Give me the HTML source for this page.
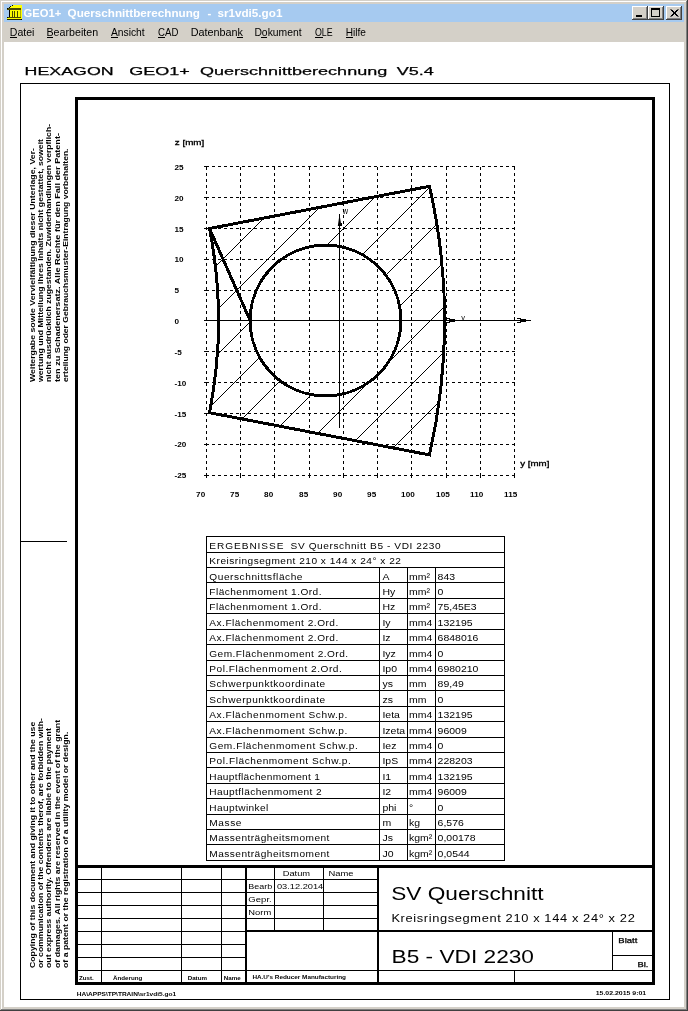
<!DOCTYPE html>
<html><head><meta charset="utf-8"><title>GEO1+ Querschnittberechnung</title>
<style>html,body{margin:0;padding:0;background:#D4D0C8;overflow:hidden}svg{display:block}</style>
</head><body>
<svg width="688" height="1011" viewBox="0 0 688 1011" shape-rendering="auto"><rect x="0" y="0" width="688" height="1011" fill="#D4D0C8"/>
<rect x="1" y="1" width="686" height="1" fill="#fff"/>
<rect x="1" y="1" width="1" height="1009" fill="#fff"/>
<rect x="687" y="0" width="1" height="1011" fill="#404040"/>
<rect x="0" y="1010" width="688" height="1" fill="#404040"/>
<rect x="686" y="1" width="1" height="1009" fill="#808080"/>
<rect x="1" y="1009" width="686" height="1" fill="#808080"/>
<rect x="4" y="4" width="680" height="18" fill="#A6CAF0"/>
<g><rect x="13" y="5" width="9" height="1" fill="#FFFF00"/><rect x="11" y="6" width="11" height="1" fill="#FFFF00"/><rect x="10" y="7" width="12" height="1" fill="#FFFF00"/><rect x="8" y="8" width="14" height="1" fill="#FFFF00"/><rect x="7" y="9" width="15" height="1" fill="#FFFF00"/><rect x="9" y="10" width="13" height="7" fill="#FFFF00"/><rect x="7" y="17" width="15" height="3" fill="#FFFF00"/><rect x="12" y="5" width="1" height="1" fill="#000"/><rect x="10" y="6" width="1" height="1" fill="#000"/><rect x="9" y="7" width="1" height="1" fill="#000"/><rect x="7" y="8" width="1" height="1" fill="#000"/><rect x="8" y="8" width="13" height="1" fill="#4a4a00"/><rect x="7" y="9" width="14" height="1" fill="#4a4a00"/><rect x="9" y="10" width="1" height="7" fill="#000"/><rect x="12" y="11" width="1" height="6" fill="#4a4a00"/><rect x="14" y="11" width="1" height="6" fill="#4a4a00"/><rect x="17" y="11" width="1" height="6" fill="#4a4a00"/><rect x="20" y="10" width="1" height="7" fill="#b0b000"/><rect x="8" y="17" width="13" height="1" fill="#4a4a00"/><rect x="7" y="19" width="15" height="1" fill="#2a2a00"/><rect x="7" y="17" width="1" height="1" fill="#000"/><rect x="21" y="19" width="1" height="1" fill="#000"/></g>
<g font-family="'Liberation Sans', 'DejaVu Sans', sans-serif" font-weight="bold" fill="#fff">
<text x="23.6" y="16.5" font-size="10.6" textLength="37.60" lengthAdjust="spacingAndGlyphs" fill="#fff">GEO1+</text>
<text x="67.6" y="16.5" font-size="10.6" textLength="132.40" lengthAdjust="spacingAndGlyphs" fill="#fff">Querschnittberechnung</text>
<text x="207.4" y="16.5" font-size="10.6" textLength="3.80" lengthAdjust="spacingAndGlyphs" fill="#fff">-</text>
<text x="217.4" y="16.5" font-size="10.6" textLength="65.00" lengthAdjust="spacingAndGlyphs" fill="#fff">sr1vdi5.go1</text>
</g>
<rect x="632" y="6" width="16" height="14" fill="#404040"/>
<rect x="632" y="6" width="15" height="13" fill="#fff"/>
<rect x="633" y="7" width="14" height="12" fill="#808080"/>
<rect x="633" y="7" width="13" height="11" fill="#D4D0C8"/>
<rect x="648" y="6" width="16" height="14" fill="#404040"/>
<rect x="648" y="6" width="15" height="13" fill="#fff"/>
<rect x="649" y="7" width="14" height="12" fill="#808080"/>
<rect x="649" y="7" width="13" height="11" fill="#D4D0C8"/>
<rect x="666" y="6" width="16" height="14" fill="#404040"/>
<rect x="666" y="6" width="15" height="13" fill="#fff"/>
<rect x="667" y="7" width="14" height="12" fill="#808080"/>
<rect x="667" y="7" width="13" height="11" fill="#D4D0C8"/>
<rect x="636" y="15" width="6" height="2" fill="#000"/>
<rect x="651.5" y="8.5" width="8" height="8" fill="none" stroke="#000" stroke-width="1"/>
<rect x="651" y="8" width="9" height="2" fill="#000"/>
<path d="M670.5,9.5 L677.5,16.5 M677.5,9.5 L670.5,16.5 M671.5,9.5 L678.5,16.5 M678.5,9.5 L671.5,16.5" stroke="#000" stroke-width="1" fill="none"/>
<g font-family="'Liberation Sans', 'DejaVu Sans', sans-serif" font-size="11" fill="#000">
<text x="9.8" y="36" textLength="24.6" lengthAdjust="spacingAndGlyphs">Datei</text>
<text x="46.5" y="36" textLength="51.6" lengthAdjust="spacingAndGlyphs">Bearbeiten</text>
<text x="110.9" y="36" textLength="33.8" lengthAdjust="spacingAndGlyphs">Ansicht</text>
<text x="158.1" y="36" textLength="20.3" lengthAdjust="spacingAndGlyphs">CAD</text>
<text x="190.7" y="36" textLength="52.3" lengthAdjust="spacingAndGlyphs">Datenbank</text>
<text x="254.4" y="36" textLength="47.2" lengthAdjust="spacingAndGlyphs">Dokument</text>
<text x="314.9" y="36" textLength="17.7" lengthAdjust="spacingAndGlyphs">OLE</text>
<text x="345.8" y="36" textLength="20.2" lengthAdjust="spacingAndGlyphs">Hilfe</text>
</g>
<rect x="10" y="37" width="7" height="1" fill="#000"/>
<rect x="47" y="37" width="6" height="1" fill="#000"/>
<rect x="111" y="37" width="7" height="1" fill="#000"/>
<rect x="158" y="37" width="7" height="1" fill="#000"/>
<rect x="237" y="37" width="6" height="1" fill="#000"/>
<rect x="261" y="37" width="6" height="1" fill="#000"/>
<rect x="315" y="37" width="8" height="1" fill="#000"/>
<rect x="346" y="37" width="7" height="1" fill="#000"/>
<rect x="4" y="42" width="680" height="965" fill="#fff"/>
<g font-family="'Liberation Sans', Arial, sans-serif" fill="#000">
<text x="24.6" y="75" font-size="11.7" textLength="89.00" lengthAdjust="spacingAndGlyphs" font-weight="normal" stroke="#000" stroke-width="0.25">HEXAGON</text>
<text x="129.20000000000002" y="75" font-size="11.7" textLength="60.50" lengthAdjust="spacingAndGlyphs" font-weight="normal" stroke="#000" stroke-width="0.25">GEO1+</text>
<text x="200.0" y="75" font-size="11.7" textLength="187.20" lengthAdjust="spacingAndGlyphs" font-weight="normal" stroke="#000" stroke-width="0.25">Querschnittberechnung</text>
<text x="396.7" y="75" font-size="11.7" textLength="37.00" lengthAdjust="spacingAndGlyphs" font-weight="normal" stroke="#000" stroke-width="0.25">V5.4</text>
</g>
<rect x="20.5" y="83.5" width="649" height="916" fill="none" stroke="#000" stroke-width="1"/>
<rect x="76.5" y="98.5" width="577" height="885" fill="none" stroke="#000" stroke-width="3"/>
<rect x="20" y="541" width="47" height="1" fill="#000"/>
<g font-family="'Liberation Sans', Arial, sans-serif" font-size="7.2" font-weight="bold" fill="#000">
<text transform="translate(35.2 382) rotate(-90)" x="0" y="0" textLength="234" lengthAdjust="spacingAndGlyphs">Weitergabe sowie Vervielfältigung dieser Unterlage, Ver-</text>
<text transform="translate(43.4 382) rotate(-90)" x="0" y="0" textLength="243" lengthAdjust="spacingAndGlyphs">wertung und Mitteilung ihres Inhalts nicht gestattet, soweit</text>
<text transform="translate(51.0 382) rotate(-90)" x="0" y="0" textLength="258" lengthAdjust="spacingAndGlyphs">nicht ausdrücklich zugestanden. Zuwiderhandlungen verpflich-</text>
<text transform="translate(59.9 382) rotate(-90)" x="0" y="0" textLength="249" lengthAdjust="spacingAndGlyphs">ten zu Schadenersatz. Alle Rechte für den Fall der Patent-</text>
<text transform="translate(68.2 382) rotate(-90)" x="0" y="0" textLength="233.5" lengthAdjust="spacingAndGlyphs">erteilung oder Gebrauchsmuster-Eintragung vorbehalten.</text>
<text transform="translate(35.0 968) rotate(-90)" x="0" y="0" textLength="246.3" lengthAdjust="spacingAndGlyphs">Copying of this document and giving it to other and the use</text>
<text transform="translate(43.0 968) rotate(-90)" x="0" y="0" textLength="249.9" lengthAdjust="spacingAndGlyphs">or communication of the contents therof, are forbidden with-</text>
<text transform="translate(50.9 968) rotate(-90)" x="0" y="0" textLength="239.9" lengthAdjust="spacingAndGlyphs">out express authority. Offenders are liable to the payment</text>
<text transform="translate(60.1 968) rotate(-90)" x="0" y="0" textLength="248.1" lengthAdjust="spacingAndGlyphs">of damages. All rights are reserved in the event of the grant</text>
<text transform="translate(68.4 968) rotate(-90)" x="0" y="0" textLength="236.3" lengthAdjust="spacingAndGlyphs">of a patent or the registration of a utility model or design.</text>
</g>
<defs><clipPath id="hc"><path clip-rule="evenodd" d="M209.5,228.5 L429.5,186.3 A608.7,608.7 0 0 1 429.5,454.9 L209.5,412.7 A474.7,474.7 0 0 0 209.5,228.5 Z M250.1,320.5 A75.4,75.4 0 1 0 400.9,320.5 A75.4,75.4 0 1 0 250.1,320.5 Z"/></clipPath></defs>
<path clip-path="url(#hc)" d="M-24,461v-1h1v-1h1v-1h1v-1h1v-1h1v-1h1v-1h1v-1h1v-1h1v-1h1v-1h1v-1h1v-1h1v-1h1v-1h1v-1h1v-1h1v-1h1v-1h1v-1h1v-1h1v-1h1v-1h1v-1h1v-1h1v-1h1v-1h1v-1h1v-1h1v-1h1v-1h1v-1h1v-1h1v-1h1v-1h1v-1h1v-1h1v-1h1v-1h1v-1h1v-1h1v-1h1v-1h1v-1h1v-1h1v-1h1v-1h1v-1h1v-1h1v-1h1v-1h1v-1h1v-1h1v-1h1v-1h1v-1h1v-1h1v-1h1v-1h1v-1h1v-1h1v-1h1v-1h1v-1h1v-1h1v-1h1v-1h1v-1h1v-1h1v-1h1v-1h1v-1h1v-1h1v-1h1v-1h1v-1h1v-1h1v-1h1v-1h1v-1h1v-1h1v-1h1v-1h1v-1h1v-1h1v-1h1v-1h1v-1h1v-1h1v-1h1v-1h1v-1h1v-1h1v-1h1v-1h1v-1h1v-1h1v-1h1v-1h1v-1h1v-1h1v-1h1v-1h1v-1h1v-1h1v-1h1v-1h1v-1h1v-1h1v-1h1v-1h1v-1h1v-1h1v-1h1v-1h1v-1h1v-1h1v-1h1v-1h1v-1h1v-1h1v-1h1v-1h1v-1h1v-1h1v-1h1v-1h1v-1h1v-1h1v-1h1v-1h1v-1h1v-1h1v-1h1v-1h1v-1h1v-1h1v-1h1v-1h1v-1h1v-1h1v-1h1v-1h1v-1h1v-1h1v-1h1v-1h1v-1h1v-1h1v-1h1v-1h1v-1h1v-1h1v-1h1v-1h1v-1h1v-1h1v-1h1v-1h1v-1h1v-1h1v-1h1v-1h1v-1h1v-1h1v-1h1v-1h1v-1h1v-1h1v-1h1v-1h1v-1h1v-1h1v-1h1v-1h1v-1h1v-1h1v-1h1v-1h1v-1h1v-1h1v-1h1v-1h1v-1h1v-1h1v-1h1v-1h1v-1h1v-1h1v-1h1v-1h1v-1h1v-1h1v-1h1v-1h1v-1h1v-1h1v-1h1v-1h1v-1h1v-1h1v-1h1v-1h1v-1h1v-1h1v-1h1v-1h1v-1h1v-1h1v-1h1v-1h1v-1h1v-1h1v-1h1v-1h1v-1h1v-1h1v-1h1v-1h1v-1h1v-1h1v-1h1v-1h1v-1h1v-1h1v-1h1v-1h1v-1h1v-1h1v-1h1v-1h1v-1h1v-1h1v-1h1v-1h1v-1h1v-1h1v-1h1v-1h1v-1h1v-1h1v-1h1v-1h1v-1h1v-1h1v-1h1v-1h1v-1h1v-1h1v-1h1v-1h1v-1h1v-1h1v-1h1v-1h1v-1h1v-1h1v-1h1v-1h1v-1h1v-1h1v-1h1v-1h1v-1h1v-1h1v-1h1v-1h1v-1h1v-1h1v-1h1v-1h1v-1h1v-1h1v-1h1v-1h1v-1h1v-1h1v-1h1v-1h1v-1h1v-1h1v1h-1v1h-1v1h-1v1h-1v1h-1v1h-1v1h-1v1h-1v1h-1v1h-1v1h-1v1h-1v1h-1v1h-1v1h-1v1h-1v1h-1v1h-1v1h-1v1h-1v1h-1v1h-1v1h-1v1h-1v1h-1v1h-1v1h-1v1h-1v1h-1v1h-1v1h-1v1h-1v1h-1v1h-1v1h-1v1h-1v1h-1v1h-1v1h-1v1h-1v1h-1v1h-1v1h-1v1h-1v1h-1v1h-1v1h-1v1h-1v1h-1v1h-1v1h-1v1h-1v1h-1v1h-1v1h-1v1h-1v1h-1v1h-1v1h-1v1h-1v1h-1v1h-1v1h-1v1h-1v1h-1v1h-1v1h-1v1h-1v1h-1v1h-1v1h-1v1h-1v1h-1v1h-1v1h-1v1h-1v1h-1v1h-1v1h-1v1h-1v1h-1v1h-1v1h-1v1h-1v1h-1v1h-1v1h-1v1h-1v1h-1v1h-1v1h-1v1h-1v1h-1v1h-1v1h-1v1h-1v1h-1v1h-1v1h-1v1h-1v1h-1v1h-1v1h-1v1h-1v1h-1v1h-1v1h-1v1h-1v1h-1v1h-1v1h-1v1h-1v1h-1v1h-1v1h-1v1h-1v1h-1v1h-1v1h-1v1h-1v1h-1v1h-1v1h-1v1h-1v1h-1v1h-1v1h-1v1h-1v1h-1v1h-1v1h-1v1h-1v1h-1v1h-1v1h-1v1h-1v1h-1v1h-1v1h-1v1h-1v1h-1v1h-1v1h-1v1h-1v1h-1v1h-1v1h-1v1h-1v1h-1v1h-1v1h-1v1h-1v1h-1v1h-1v1h-1v1h-1v1h-1v1h-1v1h-1v1h-1v1h-1v1h-1v1h-1v1h-1v1h-1v1h-1v1h-1v1h-1v1h-1v1h-1v1h-1v1h-1v1h-1v1h-1v1h-1v1h-1v1h-1v1h-1v1h-1v1h-1v1h-1v1h-1v1h-1v1h-1v1h-1v1h-1v1h-1v1h-1v1h-1v1h-1v1h-1v1h-1v1h-1v1h-1v1h-1v1h-1v1h-1v1h-1v1h-1v1h-1v1h-1v1h-1v1h-1v1h-1v1h-1v1h-1v1h-1v1h-1v1h-1v1h-1v1h-1v1h-1v1h-1v1h-1v1h-1v1h-1v1h-1v1h-1v1h-1v1h-1v1h-1v1h-1v1h-1v1h-1v1h-1v1h-1v1h-1v1h-1v1h-1v1h-1v1h-1v1h-1v1h-1v1h-1v1h-1v1h-1v1h-1v1h-1v1h-1v1h-1v1h-1v1h-1v1h-1v1h-1v1h-1v1h-1v1h-1v1h-1v1h-1v1h-1v1h-1v1h-1v1h-1v1h-1v1h-1v1h-1v1h-1v1h-1v1h-1v1h-1v1h-1v1h-1v1h-1v1h-1v1h-1v1h-1v1h-1v1h-1v1h-1v1h-1v1h-1v1h-1v1h-1v1h-1v1h-1v1h-1v1h-1v1h-1v1h-1v1h-1v1h-1Z M21,461v-1h1v-1h1v-1h1v-1h1v-1h1v-1h1v-1h1v-1h1v-1h1v-1h1v-1h1v-1h1v-1h1v-1h1v-1h1v-1h1v-1h1v-1h1v-1h1v-1h1v-1h1v-1h1v-1h1v-1h1v-1h1v-1h1v-1h1v-1h1v-1h1v-1h1v-1h1v-1h1v-1h1v-1h1v-1h1v-1h1v-1h1v-1h1v-1h1v-1h1v-1h1v-1h1v-1h1v-1h1v-1h1v-1h1v-1h1v-1h1v-1h1v-1h1v-1h1v-1h1v-1h1v-1h1v-1h1v-1h1v-1h1v-1h1v-1h1v-1h1v-1h1v-1h1v-1h1v-1h1v-1h1v-1h1v-1h1v-1h1v-1h1v-1h1v-1h1v-1h1v-1h1v-1h1v-1h1v-1h1v-1h1v-1h1v-1h1v-1h1v-1h1v-1h1v-1h1v-1h1v-1h1v-1h1v-1h1v-1h1v-1h1v-1h1v-1h1v-1h1v-1h1v-1h1v-1h1v-1h1v-1h1v-1h1v-1h1v-1h1v-1h1v-1h1v-1h1v-1h1v-1h1v-1h1v-1h1v-1h1v-1h1v-1h1v-1h1v-1h1v-1h1v-1h1v-1h1v-1h1v-1h1v-1h1v-1h1v-1h1v-1h1v-1h1v-1h1v-1h1v-1h1v-1h1v-1h1v-1h1v-1h1v-1h1v-1h1v-1h1v-1h1v-1h1v-1h1v-1h1v-1h1v-1h1v-1h1v-1h1v-1h1v-1h1v-1h1v-1h1v-1h1v-1h1v-1h1v-1h1v-1h1v-1h1v-1h1v-1h1v-1h1v-1h1v-1h1v-1h1v-1h1v-1h1v-1h1v-1h1v-1h1v-1h1v-1h1v-1h1v-1h1v-1h1v-1h1v-1h1v-1h1v-1h1v-1h1v-1h1v-1h1v-1h1v-1h1v-1h1v-1h1v-1h1v-1h1v-1h1v-1h1v-1h1v-1h1v-1h1v-1h1v-1h1v-1h1v-1h1v-1h1v-1h1v-1h1v-1h1v-1h1v-1h1v-1h1v-1h1v-1h1v-1h1v-1h1v-1h1v-1h1v-1h1v-1h1v-1h1v-1h1v-1h1v-1h1v-1h1v-1h1v-1h1v-1h1v-1h1v-1h1v-1h1v-1h1v-1h1v-1h1v-1h1v-1h1v-1h1v-1h1v-1h1v-1h1v-1h1v-1h1v-1h1v-1h1v-1h1v-1h1v-1h1v-1h1v-1h1v-1h1v-1h1v-1h1v-1h1v-1h1v-1h1v-1h1v-1h1v-1h1v-1h1v-1h1v-1h1v-1h1v-1h1v-1h1v-1h1v-1h1v-1h1v-1h1v-1h1v-1h1v-1h1v-1h1v-1h1v-1h1v-1h1v-1h1v-1h1v-1h1v-1h1v-1h1v-1h1v-1h1v-1h1v-1h1v-1h1v-1h1v-1h1v-1h1v-1h1v-1h1v-1h1v-1h1v-1h1v-1h1v-1h1v-1h1v-1h1v-1h1v1h-1v1h-1v1h-1v1h-1v1h-1v1h-1v1h-1v1h-1v1h-1v1h-1v1h-1v1h-1v1h-1v1h-1v1h-1v1h-1v1h-1v1h-1v1h-1v1h-1v1h-1v1h-1v1h-1v1h-1v1h-1v1h-1v1h-1v1h-1v1h-1v1h-1v1h-1v1h-1v1h-1v1h-1v1h-1v1h-1v1h-1v1h-1v1h-1v1h-1v1h-1v1h-1v1h-1v1h-1v1h-1v1h-1v1h-1v1h-1v1h-1v1h-1v1h-1v1h-1v1h-1v1h-1v1h-1v1h-1v1h-1v1h-1v1h-1v1h-1v1h-1v1h-1v1h-1v1h-1v1h-1v1h-1v1h-1v1h-1v1h-1v1h-1v1h-1v1h-1v1h-1v1h-1v1h-1v1h-1v1h-1v1h-1v1h-1v1h-1v1h-1v1h-1v1h-1v1h-1v1h-1v1h-1v1h-1v1h-1v1h-1v1h-1v1h-1v1h-1v1h-1v1h-1v1h-1v1h-1v1h-1v1h-1v1h-1v1h-1v1h-1v1h-1v1h-1v1h-1v1h-1v1h-1v1h-1v1h-1v1h-1v1h-1v1h-1v1h-1v1h-1v1h-1v1h-1v1h-1v1h-1v1h-1v1h-1v1h-1v1h-1v1h-1v1h-1v1h-1v1h-1v1h-1v1h-1v1h-1v1h-1v1h-1v1h-1v1h-1v1h-1v1h-1v1h-1v1h-1v1h-1v1h-1v1h-1v1h-1v1h-1v1h-1v1h-1v1h-1v1h-1v1h-1v1h-1v1h-1v1h-1v1h-1v1h-1v1h-1v1h-1v1h-1v1h-1v1h-1v1h-1v1h-1v1h-1v1h-1v1h-1v1h-1v1h-1v1h-1v1h-1v1h-1v1h-1v1h-1v1h-1v1h-1v1h-1v1h-1v1h-1v1h-1v1h-1v1h-1v1h-1v1h-1v1h-1v1h-1v1h-1v1h-1v1h-1v1h-1v1h-1v1h-1v1h-1v1h-1v1h-1v1h-1v1h-1v1h-1v1h-1v1h-1v1h-1v1h-1v1h-1v1h-1v1h-1v1h-1v1h-1v1h-1v1h-1v1h-1v1h-1v1h-1v1h-1v1h-1v1h-1v1h-1v1h-1v1h-1v1h-1v1h-1v1h-1v1h-1v1h-1v1h-1v1h-1v1h-1v1h-1v1h-1v1h-1v1h-1v1h-1v1h-1v1h-1v1h-1v1h-1v1h-1v1h-1v1h-1v1h-1v1h-1v1h-1v1h-1v1h-1v1h-1v1h-1v1h-1v1h-1v1h-1v1h-1v1h-1v1h-1v1h-1v1h-1v1h-1v1h-1v1h-1v1h-1v1h-1v1h-1v1h-1v1h-1v1h-1v1h-1v1h-1v1h-1v1h-1v1h-1v1h-1v1h-1v1h-1v1h-1v1h-1v1h-1v1h-1v1h-1v1h-1v1h-1v1h-1v1h-1v1h-1v1h-1v1h-1v1h-1v1h-1v1h-1v1h-1v1h-1Z M66,461v-1h1v-1h1v-1h1v-1h1v-1h1v-1h1v-1h1v-1h1v-1h1v-1h1v-1h1v-1h1v-1h1v-1h1v-1h1v-1h1v-1h1v-1h1v-1h1v-1h1v-1h1v-1h1v-1h1v-1h1v-1h1v-1h1v-1h1v-1h1v-1h1v-1h1v-1h1v-1h1v-1h1v-1h1v-1h1v-1h1v-1h1v-1h1v-1h1v-1h1v-1h1v-1h1v-1h1v-1h1v-1h1v-1h1v-1h1v-1h1v-1h1v-1h1v-1h1v-1h1v-1h1v-1h1v-1h1v-1h1v-1h1v-1h1v-1h1v-1h1v-1h1v-1h1v-1h1v-1h1v-1h1v-1h1v-1h1v-1h1v-1h1v-1h1v-1h1v-1h1v-1h1v-1h1v-1h1v-1h1v-1h1v-1h1v-1h1v-1h1v-1h1v-1h1v-1h1v-1h1v-1h1v-1h1v-1h1v-1h1v-1h1v-1h1v-1h1v-1h1v-1h1v-1h1v-1h1v-1h1v-1h1v-1h1v-1h1v-1h1v-1h1v-1h1v-1h1v-1h1v-1h1v-1h1v-1h1v-1h1v-1h1v-1h1v-1h1v-1h1v-1h1v-1h1v-1h1v-1h1v-1h1v-1h1v-1h1v-1h1v-1h1v-1h1v-1h1v-1h1v-1h1v-1h1v-1h1v-1h1v-1h1v-1h1v-1h1v-1h1v-1h1v-1h1v-1h1v-1h1v-1h1v-1h1v-1h1v-1h1v-1h1v-1h1v-1h1v-1h1v-1h1v-1h1v-1h1v-1h1v-1h1v-1h1v-1h1v-1h1v-1h1v-1h1v-1h1v-1h1v-1h1v-1h1v-1h1v-1h1v-1h1v-1h1v-1h1v-1h1v-1h1v-1h1v-1h1v-1h1v-1h1v-1h1v-1h1v-1h1v-1h1v-1h1v-1h1v-1h1v-1h1v-1h1v-1h1v-1h1v-1h1v-1h1v-1h1v-1h1v-1h1v-1h1v-1h1v-1h1v-1h1v-1h1v-1h1v-1h1v-1h1v-1h1v-1h1v-1h1v-1h1v-1h1v-1h1v-1h1v-1h1v-1h1v-1h1v-1h1v-1h1v-1h1v-1h1v-1h1v-1h1v-1h1v-1h1v-1h1v-1h1v-1h1v-1h1v-1h1v-1h1v-1h1v-1h1v-1h1v-1h1v-1h1v-1h1v-1h1v-1h1v-1h1v-1h1v-1h1v-1h1v-1h1v-1h1v-1h1v-1h1v-1h1v-1h1v-1h1v-1h1v-1h1v-1h1v-1h1v-1h1v-1h1v-1h1v-1h1v-1h1v-1h1v-1h1v-1h1v-1h1v-1h1v-1h1v-1h1v-1h1v-1h1v-1h1v-1h1v-1h1v-1h1v-1h1v-1h1v-1h1v-1h1v-1h1v-1h1v-1h1v-1h1v-1h1v-1h1v-1h1v-1h1v-1h1v-1h1v-1h1v-1h1v-1h1v-1h1v-1h1v-1h1v-1h1v-1h1v-1h1v1h-1v1h-1v1h-1v1h-1v1h-1v1h-1v1h-1v1h-1v1h-1v1h-1v1h-1v1h-1v1h-1v1h-1v1h-1v1h-1v1h-1v1h-1v1h-1v1h-1v1h-1v1h-1v1h-1v1h-1v1h-1v1h-1v1h-1v1h-1v1h-1v1h-1v1h-1v1h-1v1h-1v1h-1v1h-1v1h-1v1h-1v1h-1v1h-1v1h-1v1h-1v1h-1v1h-1v1h-1v1h-1v1h-1v1h-1v1h-1v1h-1v1h-1v1h-1v1h-1v1h-1v1h-1v1h-1v1h-1v1h-1v1h-1v1h-1v1h-1v1h-1v1h-1v1h-1v1h-1v1h-1v1h-1v1h-1v1h-1v1h-1v1h-1v1h-1v1h-1v1h-1v1h-1v1h-1v1h-1v1h-1v1h-1v1h-1v1h-1v1h-1v1h-1v1h-1v1h-1v1h-1v1h-1v1h-1v1h-1v1h-1v1h-1v1h-1v1h-1v1h-1v1h-1v1h-1v1h-1v1h-1v1h-1v1h-1v1h-1v1h-1v1h-1v1h-1v1h-1v1h-1v1h-1v1h-1v1h-1v1h-1v1h-1v1h-1v1h-1v1h-1v1h-1v1h-1v1h-1v1h-1v1h-1v1h-1v1h-1v1h-1v1h-1v1h-1v1h-1v1h-1v1h-1v1h-1v1h-1v1h-1v1h-1v1h-1v1h-1v1h-1v1h-1v1h-1v1h-1v1h-1v1h-1v1h-1v1h-1v1h-1v1h-1v1h-1v1h-1v1h-1v1h-1v1h-1v1h-1v1h-1v1h-1v1h-1v1h-1v1h-1v1h-1v1h-1v1h-1v1h-1v1h-1v1h-1v1h-1v1h-1v1h-1v1h-1v1h-1v1h-1v1h-1v1h-1v1h-1v1h-1v1h-1v1h-1v1h-1v1h-1v1h-1v1h-1v1h-1v1h-1v1h-1v1h-1v1h-1v1h-1v1h-1v1h-1v1h-1v1h-1v1h-1v1h-1v1h-1v1h-1v1h-1v1h-1v1h-1v1h-1v1h-1v1h-1v1h-1v1h-1v1h-1v1h-1v1h-1v1h-1v1h-1v1h-1v1h-1v1h-1v1h-1v1h-1v1h-1v1h-1v1h-1v1h-1v1h-1v1h-1v1h-1v1h-1v1h-1v1h-1v1h-1v1h-1v1h-1v1h-1v1h-1v1h-1v1h-1v1h-1v1h-1v1h-1v1h-1v1h-1v1h-1v1h-1v1h-1v1h-1v1h-1v1h-1v1h-1v1h-1v1h-1v1h-1v1h-1v1h-1v1h-1v1h-1v1h-1v1h-1v1h-1v1h-1v1h-1v1h-1v1h-1v1h-1v1h-1v1h-1v1h-1v1h-1v1h-1v1h-1v1h-1v1h-1v1h-1v1h-1v1h-1v1h-1v1h-1v1h-1v1h-1v1h-1v1h-1v1h-1v1h-1v1h-1v1h-1v1h-1v1h-1v1h-1v1h-1v1h-1v1h-1v1h-1v1h-1v1h-1Z M111,461v-1h1v-1h1v-1h1v-1h1v-1h1v-1h1v-1h1v-1h1v-1h1v-1h1v-1h1v-1h1v-1h1v-1h1v-1h1v-1h1v-1h1v-1h1v-1h1v-1h1v-1h1v-1h1v-1h1v-1h1v-1h1v-1h1v-1h1v-1h1v-1h1v-1h1v-1h1v-1h1v-1h1v-1h1v-1h1v-1h1v-1h1v-1h1v-1h1v-1h1v-1h1v-1h1v-1h1v-1h1v-1h1v-1h1v-1h1v-1h1v-1h1v-1h1v-1h1v-1h1v-1h1v-1h1v-1h1v-1h1v-1h1v-1h1v-1h1v-1h1v-1h1v-1h1v-1h1v-1h1v-1h1v-1h1v-1h1v-1h1v-1h1v-1h1v-1h1v-1h1v-1h1v-1h1v-1h1v-1h1v-1h1v-1h1v-1h1v-1h1v-1h1v-1h1v-1h1v-1h1v-1h1v-1h1v-1h1v-1h1v-1h1v-1h1v-1h1v-1h1v-1h1v-1h1v-1h1v-1h1v-1h1v-1h1v-1h1v-1h1v-1h1v-1h1v-1h1v-1h1v-1h1v-1h1v-1h1v-1h1v-1h1v-1h1v-1h1v-1h1v-1h1v-1h1v-1h1v-1h1v-1h1v-1h1v-1h1v-1h1v-1h1v-1h1v-1h1v-1h1v-1h1v-1h1v-1h1v-1h1v-1h1v-1h1v-1h1v-1h1v-1h1v-1h1v-1h1v-1h1v-1h1v-1h1v-1h1v-1h1v-1h1v-1h1v-1h1v-1h1v-1h1v-1h1v-1h1v-1h1v-1h1v-1h1v-1h1v-1h1v-1h1v-1h1v-1h1v-1h1v-1h1v-1h1v-1h1v-1h1v-1h1v-1h1v-1h1v-1h1v-1h1v-1h1v-1h1v-1h1v-1h1v-1h1v-1h1v-1h1v-1h1v-1h1v-1h1v-1h1v-1h1v-1h1v-1h1v-1h1v-1h1v-1h1v-1h1v-1h1v-1h1v-1h1v-1h1v-1h1v-1h1v-1h1v-1h1v-1h1v-1h1v-1h1v-1h1v-1h1v-1h1v-1h1v-1h1v-1h1v-1h1v-1h1v-1h1v-1h1v-1h1v-1h1v-1h1v-1h1v-1h1v-1h1v-1h1v-1h1v-1h1v-1h1v-1h1v-1h1v-1h1v-1h1v-1h1v-1h1v-1h1v-1h1v-1h1v-1h1v-1h1v-1h1v-1h1v-1h1v-1h1v-1h1v-1h1v-1h1v-1h1v-1h1v-1h1v-1h1v-1h1v-1h1v-1h1v-1h1v-1h1v-1h1v-1h1v-1h1v-1h1v-1h1v-1h1v-1h1v-1h1v-1h1v-1h1v-1h1v-1h1v-1h1v-1h1v-1h1v-1h1v-1h1v-1h1v-1h1v-1h1v-1h1v-1h1v-1h1v-1h1v-1h1v-1h1v-1h1v-1h1v-1h1v-1h1v-1h1v-1h1v-1h1v-1h1v-1h1v-1h1v-1h1v-1h1v-1h1v-1h1v1h-1v1h-1v1h-1v1h-1v1h-1v1h-1v1h-1v1h-1v1h-1v1h-1v1h-1v1h-1v1h-1v1h-1v1h-1v1h-1v1h-1v1h-1v1h-1v1h-1v1h-1v1h-1v1h-1v1h-1v1h-1v1h-1v1h-1v1h-1v1h-1v1h-1v1h-1v1h-1v1h-1v1h-1v1h-1v1h-1v1h-1v1h-1v1h-1v1h-1v1h-1v1h-1v1h-1v1h-1v1h-1v1h-1v1h-1v1h-1v1h-1v1h-1v1h-1v1h-1v1h-1v1h-1v1h-1v1h-1v1h-1v1h-1v1h-1v1h-1v1h-1v1h-1v1h-1v1h-1v1h-1v1h-1v1h-1v1h-1v1h-1v1h-1v1h-1v1h-1v1h-1v1h-1v1h-1v1h-1v1h-1v1h-1v1h-1v1h-1v1h-1v1h-1v1h-1v1h-1v1h-1v1h-1v1h-1v1h-1v1h-1v1h-1v1h-1v1h-1v1h-1v1h-1v1h-1v1h-1v1h-1v1h-1v1h-1v1h-1v1h-1v1h-1v1h-1v1h-1v1h-1v1h-1v1h-1v1h-1v1h-1v1h-1v1h-1v1h-1v1h-1v1h-1v1h-1v1h-1v1h-1v1h-1v1h-1v1h-1v1h-1v1h-1v1h-1v1h-1v1h-1v1h-1v1h-1v1h-1v1h-1v1h-1v1h-1v1h-1v1h-1v1h-1v1h-1v1h-1v1h-1v1h-1v1h-1v1h-1v1h-1v1h-1v1h-1v1h-1v1h-1v1h-1v1h-1v1h-1v1h-1v1h-1v1h-1v1h-1v1h-1v1h-1v1h-1v1h-1v1h-1v1h-1v1h-1v1h-1v1h-1v1h-1v1h-1v1h-1v1h-1v1h-1v1h-1v1h-1v1h-1v1h-1v1h-1v1h-1v1h-1v1h-1v1h-1v1h-1v1h-1v1h-1v1h-1v1h-1v1h-1v1h-1v1h-1v1h-1v1h-1v1h-1v1h-1v1h-1v1h-1v1h-1v1h-1v1h-1v1h-1v1h-1v1h-1v1h-1v1h-1v1h-1v1h-1v1h-1v1h-1v1h-1v1h-1v1h-1v1h-1v1h-1v1h-1v1h-1v1h-1v1h-1v1h-1v1h-1v1h-1v1h-1v1h-1v1h-1v1h-1v1h-1v1h-1v1h-1v1h-1v1h-1v1h-1v1h-1v1h-1v1h-1v1h-1v1h-1v1h-1v1h-1v1h-1v1h-1v1h-1v1h-1v1h-1v1h-1v1h-1v1h-1v1h-1v1h-1v1h-1v1h-1v1h-1v1h-1v1h-1v1h-1v1h-1v1h-1v1h-1v1h-1v1h-1v1h-1v1h-1v1h-1v1h-1v1h-1v1h-1v1h-1v1h-1v1h-1v1h-1v1h-1v1h-1v1h-1v1h-1v1h-1v1h-1v1h-1v1h-1v1h-1v1h-1v1h-1v1h-1v1h-1v1h-1v1h-1v1h-1v1h-1v1h-1v1h-1v1h-1Z M156,461v-1h1v-1h1v-1h1v-1h1v-1h1v-1h1v-1h1v-1h1v-1h1v-1h1v-1h1v-1h1v-1h1v-1h1v-1h1v-1h1v-1h1v-1h1v-1h1v-1h1v-1h1v-1h1v-1h1v-1h1v-1h1v-1h1v-1h1v-1h1v-1h1v-1h1v-1h1v-1h1v-1h1v-1h1v-1h1v-1h1v-1h1v-1h1v-1h1v-1h1v-1h1v-1h1v-1h1v-1h1v-1h1v-1h1v-1h1v-1h1v-1h1v-1h1v-1h1v-1h1v-1h1v-1h1v-1h1v-1h1v-1h1v-1h1v-1h1v-1h1v-1h1v-1h1v-1h1v-1h1v-1h1v-1h1v-1h1v-1h1v-1h1v-1h1v-1h1v-1h1v-1h1v-1h1v-1h1v-1h1v-1h1v-1h1v-1h1v-1h1v-1h1v-1h1v-1h1v-1h1v-1h1v-1h1v-1h1v-1h1v-1h1v-1h1v-1h1v-1h1v-1h1v-1h1v-1h1v-1h1v-1h1v-1h1v-1h1v-1h1v-1h1v-1h1v-1h1v-1h1v-1h1v-1h1v-1h1v-1h1v-1h1v-1h1v-1h1v-1h1v-1h1v-1h1v-1h1v-1h1v-1h1v-1h1v-1h1v-1h1v-1h1v-1h1v-1h1v-1h1v-1h1v-1h1v-1h1v-1h1v-1h1v-1h1v-1h1v-1h1v-1h1v-1h1v-1h1v-1h1v-1h1v-1h1v-1h1v-1h1v-1h1v-1h1v-1h1v-1h1v-1h1v-1h1v-1h1v-1h1v-1h1v-1h1v-1h1v-1h1v-1h1v-1h1v-1h1v-1h1v-1h1v-1h1v-1h1v-1h1v-1h1v-1h1v-1h1v-1h1v-1h1v-1h1v-1h1v-1h1v-1h1v-1h1v-1h1v-1h1v-1h1v-1h1v-1h1v-1h1v-1h1v-1h1v-1h1v-1h1v-1h1v-1h1v-1h1v-1h1v-1h1v-1h1v-1h1v-1h1v-1h1v-1h1v-1h1v-1h1v-1h1v-1h1v-1h1v-1h1v-1h1v-1h1v-1h1v-1h1v-1h1v-1h1v-1h1v-1h1v-1h1v-1h1v-1h1v-1h1v-1h1v-1h1v-1h1v-1h1v-1h1v-1h1v-1h1v-1h1v-1h1v-1h1v-1h1v-1h1v-1h1v-1h1v-1h1v-1h1v-1h1v-1h1v-1h1v-1h1v-1h1v-1h1v-1h1v-1h1v-1h1v-1h1v-1h1v-1h1v-1h1v-1h1v-1h1v-1h1v-1h1v-1h1v-1h1v-1h1v-1h1v-1h1v-1h1v-1h1v-1h1v-1h1v-1h1v-1h1v-1h1v-1h1v-1h1v-1h1v-1h1v-1h1v-1h1v-1h1v-1h1v-1h1v-1h1v-1h1v-1h1v-1h1v-1h1v-1h1v-1h1v-1h1v-1h1v-1h1v-1h1v-1h1v-1h1v-1h1v-1h1v-1h1v-1h1v-1h1v-1h1v1h-1v1h-1v1h-1v1h-1v1h-1v1h-1v1h-1v1h-1v1h-1v1h-1v1h-1v1h-1v1h-1v1h-1v1h-1v1h-1v1h-1v1h-1v1h-1v1h-1v1h-1v1h-1v1h-1v1h-1v1h-1v1h-1v1h-1v1h-1v1h-1v1h-1v1h-1v1h-1v1h-1v1h-1v1h-1v1h-1v1h-1v1h-1v1h-1v1h-1v1h-1v1h-1v1h-1v1h-1v1h-1v1h-1v1h-1v1h-1v1h-1v1h-1v1h-1v1h-1v1h-1v1h-1v1h-1v1h-1v1h-1v1h-1v1h-1v1h-1v1h-1v1h-1v1h-1v1h-1v1h-1v1h-1v1h-1v1h-1v1h-1v1h-1v1h-1v1h-1v1h-1v1h-1v1h-1v1h-1v1h-1v1h-1v1h-1v1h-1v1h-1v1h-1v1h-1v1h-1v1h-1v1h-1v1h-1v1h-1v1h-1v1h-1v1h-1v1h-1v1h-1v1h-1v1h-1v1h-1v1h-1v1h-1v1h-1v1h-1v1h-1v1h-1v1h-1v1h-1v1h-1v1h-1v1h-1v1h-1v1h-1v1h-1v1h-1v1h-1v1h-1v1h-1v1h-1v1h-1v1h-1v1h-1v1h-1v1h-1v1h-1v1h-1v1h-1v1h-1v1h-1v1h-1v1h-1v1h-1v1h-1v1h-1v1h-1v1h-1v1h-1v1h-1v1h-1v1h-1v1h-1v1h-1v1h-1v1h-1v1h-1v1h-1v1h-1v1h-1v1h-1v1h-1v1h-1v1h-1v1h-1v1h-1v1h-1v1h-1v1h-1v1h-1v1h-1v1h-1v1h-1v1h-1v1h-1v1h-1v1h-1v1h-1v1h-1v1h-1v1h-1v1h-1v1h-1v1h-1v1h-1v1h-1v1h-1v1h-1v1h-1v1h-1v1h-1v1h-1v1h-1v1h-1v1h-1v1h-1v1h-1v1h-1v1h-1v1h-1v1h-1v1h-1v1h-1v1h-1v1h-1v1h-1v1h-1v1h-1v1h-1v1h-1v1h-1v1h-1v1h-1v1h-1v1h-1v1h-1v1h-1v1h-1v1h-1v1h-1v1h-1v1h-1v1h-1v1h-1v1h-1v1h-1v1h-1v1h-1v1h-1v1h-1v1h-1v1h-1v1h-1v1h-1v1h-1v1h-1v1h-1v1h-1v1h-1v1h-1v1h-1v1h-1v1h-1v1h-1v1h-1v1h-1v1h-1v1h-1v1h-1v1h-1v1h-1v1h-1v1h-1v1h-1v1h-1v1h-1v1h-1v1h-1v1h-1v1h-1v1h-1v1h-1v1h-1v1h-1v1h-1v1h-1v1h-1v1h-1v1h-1v1h-1v1h-1v1h-1v1h-1v1h-1v1h-1v1h-1v1h-1v1h-1v1h-1v1h-1v1h-1v1h-1v1h-1v1h-1v1h-1v1h-1v1h-1v1h-1v1h-1v1h-1v1h-1v1h-1v1h-1v1h-1v1h-1v1h-1v1h-1Z M200,461v-1h1v-1h1v-1h1v-1h1v-1h1v-1h1v-1h1v-1h1v-1h1v-1h1v-1h1v-1h1v-1h1v-1h1v-1h1v-1h1v-1h1v-1h1v-1h1v-1h1v-1h1v-1h1v-1h1v-1h1v-1h1v-1h1v-1h1v-1h1v-1h1v-1h1v-1h1v-1h1v-1h1v-1h1v-1h1v-1h1v-1h1v-1h1v-1h1v-1h1v-1h1v-1h1v-1h1v-1h1v-1h1v-1h1v-1h1v-1h1v-1h1v-1h1v-1h1v-1h1v-1h1v-1h1v-1h1v-1h1v-1h1v-1h1v-1h1v-1h1v-1h1v-1h1v-1h1v-1h1v-1h1v-1h1v-1h1v-1h1v-1h1v-1h1v-1h1v-1h1v-1h1v-1h1v-1h1v-1h1v-1h1v-1h1v-1h1v-1h1v-1h1v-1h1v-1h1v-1h1v-1h1v-1h1v-1h1v-1h1v-1h1v-1h1v-1h1v-1h1v-1h1v-1h1v-1h1v-1h1v-1h1v-1h1v-1h1v-1h1v-1h1v-1h1v-1h1v-1h1v-1h1v-1h1v-1h1v-1h1v-1h1v-1h1v-1h1v-1h1v-1h1v-1h1v-1h1v-1h1v-1h1v-1h1v-1h1v-1h1v-1h1v-1h1v-1h1v-1h1v-1h1v-1h1v-1h1v-1h1v-1h1v-1h1v-1h1v-1h1v-1h1v-1h1v-1h1v-1h1v-1h1v-1h1v-1h1v-1h1v-1h1v-1h1v-1h1v-1h1v-1h1v-1h1v-1h1v-1h1v-1h1v-1h1v-1h1v-1h1v-1h1v-1h1v-1h1v-1h1v-1h1v-1h1v-1h1v-1h1v-1h1v-1h1v-1h1v-1h1v-1h1v-1h1v-1h1v-1h1v-1h1v-1h1v-1h1v-1h1v-1h1v-1h1v-1h1v-1h1v-1h1v-1h1v-1h1v-1h1v-1h1v-1h1v-1h1v-1h1v-1h1v-1h1v-1h1v-1h1v-1h1v-1h1v-1h1v-1h1v-1h1v-1h1v-1h1v-1h1v-1h1v-1h1v-1h1v-1h1v-1h1v-1h1v-1h1v-1h1v-1h1v-1h1v-1h1v-1h1v-1h1v-1h1v-1h1v-1h1v-1h1v-1h1v-1h1v-1h1v-1h1v-1h1v-1h1v-1h1v-1h1v-1h1v-1h1v-1h1v-1h1v-1h1v-1h1v-1h1v-1h1v-1h1v-1h1v-1h1v-1h1v-1h1v-1h1v-1h1v-1h1v-1h1v-1h1v-1h1v-1h1v-1h1v-1h1v-1h1v-1h1v-1h1v-1h1v-1h1v-1h1v-1h1v-1h1v-1h1v-1h1v-1h1v-1h1v-1h1v-1h1v-1h1v-1h1v-1h1v-1h1v-1h1v-1h1v-1h1v-1h1v-1h1v-1h1v-1h1v-1h1v-1h1v-1h1v-1h1v-1h1v-1h1v-1h1v-1h1v-1h1v-1h1v-1h1v-1h1v-1h1v1h-1v1h-1v1h-1v1h-1v1h-1v1h-1v1h-1v1h-1v1h-1v1h-1v1h-1v1h-1v1h-1v1h-1v1h-1v1h-1v1h-1v1h-1v1h-1v1h-1v1h-1v1h-1v1h-1v1h-1v1h-1v1h-1v1h-1v1h-1v1h-1v1h-1v1h-1v1h-1v1h-1v1h-1v1h-1v1h-1v1h-1v1h-1v1h-1v1h-1v1h-1v1h-1v1h-1v1h-1v1h-1v1h-1v1h-1v1h-1v1h-1v1h-1v1h-1v1h-1v1h-1v1h-1v1h-1v1h-1v1h-1v1h-1v1h-1v1h-1v1h-1v1h-1v1h-1v1h-1v1h-1v1h-1v1h-1v1h-1v1h-1v1h-1v1h-1v1h-1v1h-1v1h-1v1h-1v1h-1v1h-1v1h-1v1h-1v1h-1v1h-1v1h-1v1h-1v1h-1v1h-1v1h-1v1h-1v1h-1v1h-1v1h-1v1h-1v1h-1v1h-1v1h-1v1h-1v1h-1v1h-1v1h-1v1h-1v1h-1v1h-1v1h-1v1h-1v1h-1v1h-1v1h-1v1h-1v1h-1v1h-1v1h-1v1h-1v1h-1v1h-1v1h-1v1h-1v1h-1v1h-1v1h-1v1h-1v1h-1v1h-1v1h-1v1h-1v1h-1v1h-1v1h-1v1h-1v1h-1v1h-1v1h-1v1h-1v1h-1v1h-1v1h-1v1h-1v1h-1v1h-1v1h-1v1h-1v1h-1v1h-1v1h-1v1h-1v1h-1v1h-1v1h-1v1h-1v1h-1v1h-1v1h-1v1h-1v1h-1v1h-1v1h-1v1h-1v1h-1v1h-1v1h-1v1h-1v1h-1v1h-1v1h-1v1h-1v1h-1v1h-1v1h-1v1h-1v1h-1v1h-1v1h-1v1h-1v1h-1v1h-1v1h-1v1h-1v1h-1v1h-1v1h-1v1h-1v1h-1v1h-1v1h-1v1h-1v1h-1v1h-1v1h-1v1h-1v1h-1v1h-1v1h-1v1h-1v1h-1v1h-1v1h-1v1h-1v1h-1v1h-1v1h-1v1h-1v1h-1v1h-1v1h-1v1h-1v1h-1v1h-1v1h-1v1h-1v1h-1v1h-1v1h-1v1h-1v1h-1v1h-1v1h-1v1h-1v1h-1v1h-1v1h-1v1h-1v1h-1v1h-1v1h-1v1h-1v1h-1v1h-1v1h-1v1h-1v1h-1v1h-1v1h-1v1h-1v1h-1v1h-1v1h-1v1h-1v1h-1v1h-1v1h-1v1h-1v1h-1v1h-1v1h-1v1h-1v1h-1v1h-1v1h-1v1h-1v1h-1v1h-1v1h-1v1h-1v1h-1v1h-1v1h-1v1h-1v1h-1v1h-1v1h-1v1h-1v1h-1v1h-1v1h-1v1h-1v1h-1v1h-1v1h-1v1h-1v1h-1v1h-1v1h-1v1h-1v1h-1v1h-1v1h-1v1h-1v1h-1v1h-1v1h-1v1h-1v1h-1v1h-1Z M245,461v-1h1v-1h1v-1h1v-1h1v-1h1v-1h1v-1h1v-1h1v-1h1v-1h1v-1h1v-1h1v-1h1v-1h1v-1h1v-1h1v-1h1v-1h1v-1h1v-1h1v-1h1v-1h1v-1h1v-1h1v-1h1v-1h1v-1h1v-1h1v-1h1v-1h1v-1h1v-1h1v-1h1v-1h1v-1h1v-1h1v-1h1v-1h1v-1h1v-1h1v-1h1v-1h1v-1h1v-1h1v-1h1v-1h1v-1h1v-1h1v-1h1v-1h1v-1h1v-1h1v-1h1v-1h1v-1h1v-1h1v-1h1v-1h1v-1h1v-1h1v-1h1v-1h1v-1h1v-1h1v-1h1v-1h1v-1h1v-1h1v-1h1v-1h1v-1h1v-1h1v-1h1v-1h1v-1h1v-1h1v-1h1v-1h1v-1h1v-1h1v-1h1v-1h1v-1h1v-1h1v-1h1v-1h1v-1h1v-1h1v-1h1v-1h1v-1h1v-1h1v-1h1v-1h1v-1h1v-1h1v-1h1v-1h1v-1h1v-1h1v-1h1v-1h1v-1h1v-1h1v-1h1v-1h1v-1h1v-1h1v-1h1v-1h1v-1h1v-1h1v-1h1v-1h1v-1h1v-1h1v-1h1v-1h1v-1h1v-1h1v-1h1v-1h1v-1h1v-1h1v-1h1v-1h1v-1h1v-1h1v-1h1v-1h1v-1h1v-1h1v-1h1v-1h1v-1h1v-1h1v-1h1v-1h1v-1h1v-1h1v-1h1v-1h1v-1h1v-1h1v-1h1v-1h1v-1h1v-1h1v-1h1v-1h1v-1h1v-1h1v-1h1v-1h1v-1h1v-1h1v-1h1v-1h1v-1h1v-1h1v-1h1v-1h1v-1h1v-1h1v-1h1v-1h1v-1h1v-1h1v-1h1v-1h1v-1h1v-1h1v-1h1v-1h1v-1h1v-1h1v-1h1v-1h1v-1h1v-1h1v-1h1v-1h1v-1h1v-1h1v-1h1v-1h1v-1h1v-1h1v-1h1v-1h1v-1h1v-1h1v-1h1v-1h1v-1h1v-1h1v-1h1v-1h1v-1h1v-1h1v-1h1v-1h1v-1h1v-1h1v-1h1v-1h1v-1h1v-1h1v-1h1v-1h1v-1h1v-1h1v-1h1v-1h1v-1h1v-1h1v-1h1v-1h1v-1h1v-1h1v-1h1v-1h1v-1h1v-1h1v-1h1v-1h1v-1h1v-1h1v-1h1v-1h1v-1h1v-1h1v-1h1v-1h1v-1h1v-1h1v-1h1v-1h1v-1h1v-1h1v-1h1v-1h1v-1h1v-1h1v-1h1v-1h1v-1h1v-1h1v-1h1v-1h1v-1h1v-1h1v-1h1v-1h1v-1h1v-1h1v-1h1v-1h1v-1h1v-1h1v-1h1v-1h1v-1h1v-1h1v-1h1v-1h1v-1h1v-1h1v-1h1v-1h1v-1h1v-1h1v-1h1v-1h1v-1h1v-1h1v-1h1v-1h1v-1h1v-1h1v-1h1v1h-1v1h-1v1h-1v1h-1v1h-1v1h-1v1h-1v1h-1v1h-1v1h-1v1h-1v1h-1v1h-1v1h-1v1h-1v1h-1v1h-1v1h-1v1h-1v1h-1v1h-1v1h-1v1h-1v1h-1v1h-1v1h-1v1h-1v1h-1v1h-1v1h-1v1h-1v1h-1v1h-1v1h-1v1h-1v1h-1v1h-1v1h-1v1h-1v1h-1v1h-1v1h-1v1h-1v1h-1v1h-1v1h-1v1h-1v1h-1v1h-1v1h-1v1h-1v1h-1v1h-1v1h-1v1h-1v1h-1v1h-1v1h-1v1h-1v1h-1v1h-1v1h-1v1h-1v1h-1v1h-1v1h-1v1h-1v1h-1v1h-1v1h-1v1h-1v1h-1v1h-1v1h-1v1h-1v1h-1v1h-1v1h-1v1h-1v1h-1v1h-1v1h-1v1h-1v1h-1v1h-1v1h-1v1h-1v1h-1v1h-1v1h-1v1h-1v1h-1v1h-1v1h-1v1h-1v1h-1v1h-1v1h-1v1h-1v1h-1v1h-1v1h-1v1h-1v1h-1v1h-1v1h-1v1h-1v1h-1v1h-1v1h-1v1h-1v1h-1v1h-1v1h-1v1h-1v1h-1v1h-1v1h-1v1h-1v1h-1v1h-1v1h-1v1h-1v1h-1v1h-1v1h-1v1h-1v1h-1v1h-1v1h-1v1h-1v1h-1v1h-1v1h-1v1h-1v1h-1v1h-1v1h-1v1h-1v1h-1v1h-1v1h-1v1h-1v1h-1v1h-1v1h-1v1h-1v1h-1v1h-1v1h-1v1h-1v1h-1v1h-1v1h-1v1h-1v1h-1v1h-1v1h-1v1h-1v1h-1v1h-1v1h-1v1h-1v1h-1v1h-1v1h-1v1h-1v1h-1v1h-1v1h-1v1h-1v1h-1v1h-1v1h-1v1h-1v1h-1v1h-1v1h-1v1h-1v1h-1v1h-1v1h-1v1h-1v1h-1v1h-1v1h-1v1h-1v1h-1v1h-1v1h-1v1h-1v1h-1v1h-1v1h-1v1h-1v1h-1v1h-1v1h-1v1h-1v1h-1v1h-1v1h-1v1h-1v1h-1v1h-1v1h-1v1h-1v1h-1v1h-1v1h-1v1h-1v1h-1v1h-1v1h-1v1h-1v1h-1v1h-1v1h-1v1h-1v1h-1v1h-1v1h-1v1h-1v1h-1v1h-1v1h-1v1h-1v1h-1v1h-1v1h-1v1h-1v1h-1v1h-1v1h-1v1h-1v1h-1v1h-1v1h-1v1h-1v1h-1v1h-1v1h-1v1h-1v1h-1v1h-1v1h-1v1h-1v1h-1v1h-1v1h-1v1h-1v1h-1v1h-1v1h-1v1h-1v1h-1v1h-1v1h-1v1h-1v1h-1v1h-1v1h-1v1h-1v1h-1v1h-1v1h-1v1h-1v1h-1v1h-1v1h-1v1h-1v1h-1v1h-1v1h-1v1h-1v1h-1v1h-1v1h-1v1h-1v1h-1v1h-1Z M290,461v-1h1v-1h1v-1h1v-1h1v-1h1v-1h1v-1h1v-1h1v-1h1v-1h1v-1h1v-1h1v-1h1v-1h1v-1h1v-1h1v-1h1v-1h1v-1h1v-1h1v-1h1v-1h1v-1h1v-1h1v-1h1v-1h1v-1h1v-1h1v-1h1v-1h1v-1h1v-1h1v-1h1v-1h1v-1h1v-1h1v-1h1v-1h1v-1h1v-1h1v-1h1v-1h1v-1h1v-1h1v-1h1v-1h1v-1h1v-1h1v-1h1v-1h1v-1h1v-1h1v-1h1v-1h1v-1h1v-1h1v-1h1v-1h1v-1h1v-1h1v-1h1v-1h1v-1h1v-1h1v-1h1v-1h1v-1h1v-1h1v-1h1v-1h1v-1h1v-1h1v-1h1v-1h1v-1h1v-1h1v-1h1v-1h1v-1h1v-1h1v-1h1v-1h1v-1h1v-1h1v-1h1v-1h1v-1h1v-1h1v-1h1v-1h1v-1h1v-1h1v-1h1v-1h1v-1h1v-1h1v-1h1v-1h1v-1h1v-1h1v-1h1v-1h1v-1h1v-1h1v-1h1v-1h1v-1h1v-1h1v-1h1v-1h1v-1h1v-1h1v-1h1v-1h1v-1h1v-1h1v-1h1v-1h1v-1h1v-1h1v-1h1v-1h1v-1h1v-1h1v-1h1v-1h1v-1h1v-1h1v-1h1v-1h1v-1h1v-1h1v-1h1v-1h1v-1h1v-1h1v-1h1v-1h1v-1h1v-1h1v-1h1v-1h1v-1h1v-1h1v-1h1v-1h1v-1h1v-1h1v-1h1v-1h1v-1h1v-1h1v-1h1v-1h1v-1h1v-1h1v-1h1v-1h1v-1h1v-1h1v-1h1v-1h1v-1h1v-1h1v-1h1v-1h1v-1h1v-1h1v-1h1v-1h1v-1h1v-1h1v-1h1v-1h1v-1h1v-1h1v-1h1v-1h1v-1h1v-1h1v-1h1v-1h1v-1h1v-1h1v-1h1v-1h1v-1h1v-1h1v-1h1v-1h1v-1h1v-1h1v-1h1v-1h1v-1h1v-1h1v-1h1v-1h1v-1h1v-1h1v-1h1v-1h1v-1h1v-1h1v-1h1v-1h1v-1h1v-1h1v-1h1v-1h1v-1h1v-1h1v-1h1v-1h1v-1h1v-1h1v-1h1v-1h1v-1h1v-1h1v-1h1v-1h1v-1h1v-1h1v-1h1v-1h1v-1h1v-1h1v-1h1v-1h1v-1h1v-1h1v-1h1v-1h1v-1h1v-1h1v-1h1v-1h1v-1h1v-1h1v-1h1v-1h1v-1h1v-1h1v-1h1v-1h1v-1h1v-1h1v-1h1v-1h1v-1h1v-1h1v-1h1v-1h1v-1h1v-1h1v-1h1v-1h1v-1h1v-1h1v-1h1v-1h1v-1h1v-1h1v-1h1v-1h1v-1h1v-1h1v-1h1v-1h1v-1h1v-1h1v-1h1v-1h1v-1h1v-1h1v-1h1v-1h1v-1h1v-1h1v-1h1v1h-1v1h-1v1h-1v1h-1v1h-1v1h-1v1h-1v1h-1v1h-1v1h-1v1h-1v1h-1v1h-1v1h-1v1h-1v1h-1v1h-1v1h-1v1h-1v1h-1v1h-1v1h-1v1h-1v1h-1v1h-1v1h-1v1h-1v1h-1v1h-1v1h-1v1h-1v1h-1v1h-1v1h-1v1h-1v1h-1v1h-1v1h-1v1h-1v1h-1v1h-1v1h-1v1h-1v1h-1v1h-1v1h-1v1h-1v1h-1v1h-1v1h-1v1h-1v1h-1v1h-1v1h-1v1h-1v1h-1v1h-1v1h-1v1h-1v1h-1v1h-1v1h-1v1h-1v1h-1v1h-1v1h-1v1h-1v1h-1v1h-1v1h-1v1h-1v1h-1v1h-1v1h-1v1h-1v1h-1v1h-1v1h-1v1h-1v1h-1v1h-1v1h-1v1h-1v1h-1v1h-1v1h-1v1h-1v1h-1v1h-1v1h-1v1h-1v1h-1v1h-1v1h-1v1h-1v1h-1v1h-1v1h-1v1h-1v1h-1v1h-1v1h-1v1h-1v1h-1v1h-1v1h-1v1h-1v1h-1v1h-1v1h-1v1h-1v1h-1v1h-1v1h-1v1h-1v1h-1v1h-1v1h-1v1h-1v1h-1v1h-1v1h-1v1h-1v1h-1v1h-1v1h-1v1h-1v1h-1v1h-1v1h-1v1h-1v1h-1v1h-1v1h-1v1h-1v1h-1v1h-1v1h-1v1h-1v1h-1v1h-1v1h-1v1h-1v1h-1v1h-1v1h-1v1h-1v1h-1v1h-1v1h-1v1h-1v1h-1v1h-1v1h-1v1h-1v1h-1v1h-1v1h-1v1h-1v1h-1v1h-1v1h-1v1h-1v1h-1v1h-1v1h-1v1h-1v1h-1v1h-1v1h-1v1h-1v1h-1v1h-1v1h-1v1h-1v1h-1v1h-1v1h-1v1h-1v1h-1v1h-1v1h-1v1h-1v1h-1v1h-1v1h-1v1h-1v1h-1v1h-1v1h-1v1h-1v1h-1v1h-1v1h-1v1h-1v1h-1v1h-1v1h-1v1h-1v1h-1v1h-1v1h-1v1h-1v1h-1v1h-1v1h-1v1h-1v1h-1v1h-1v1h-1v1h-1v1h-1v1h-1v1h-1v1h-1v1h-1v1h-1v1h-1v1h-1v1h-1v1h-1v1h-1v1h-1v1h-1v1h-1v1h-1v1h-1v1h-1v1h-1v1h-1v1h-1v1h-1v1h-1v1h-1v1h-1v1h-1v1h-1v1h-1v1h-1v1h-1v1h-1v1h-1v1h-1v1h-1v1h-1v1h-1v1h-1v1h-1v1h-1v1h-1v1h-1v1h-1v1h-1v1h-1v1h-1v1h-1v1h-1v1h-1v1h-1v1h-1v1h-1v1h-1v1h-1v1h-1v1h-1v1h-1v1h-1v1h-1v1h-1v1h-1v1h-1v1h-1v1h-1v1h-1v1h-1v1h-1v1h-1v1h-1v1h-1v1h-1v1h-1Z M335,461v-1h1v-1h1v-1h1v-1h1v-1h1v-1h1v-1h1v-1h1v-1h1v-1h1v-1h1v-1h1v-1h1v-1h1v-1h1v-1h1v-1h1v-1h1v-1h1v-1h1v-1h1v-1h1v-1h1v-1h1v-1h1v-1h1v-1h1v-1h1v-1h1v-1h1v-1h1v-1h1v-1h1v-1h1v-1h1v-1h1v-1h1v-1h1v-1h1v-1h1v-1h1v-1h1v-1h1v-1h1v-1h1v-1h1v-1h1v-1h1v-1h1v-1h1v-1h1v-1h1v-1h1v-1h1v-1h1v-1h1v-1h1v-1h1v-1h1v-1h1v-1h1v-1h1v-1h1v-1h1v-1h1v-1h1v-1h1v-1h1v-1h1v-1h1v-1h1v-1h1v-1h1v-1h1v-1h1v-1h1v-1h1v-1h1v-1h1v-1h1v-1h1v-1h1v-1h1v-1h1v-1h1v-1h1v-1h1v-1h1v-1h1v-1h1v-1h1v-1h1v-1h1v-1h1v-1h1v-1h1v-1h1v-1h1v-1h1v-1h1v-1h1v-1h1v-1h1v-1h1v-1h1v-1h1v-1h1v-1h1v-1h1v-1h1v-1h1v-1h1v-1h1v-1h1v-1h1v-1h1v-1h1v-1h1v-1h1v-1h1v-1h1v-1h1v-1h1v-1h1v-1h1v-1h1v-1h1v-1h1v-1h1v-1h1v-1h1v-1h1v-1h1v-1h1v-1h1v-1h1v-1h1v-1h1v-1h1v-1h1v-1h1v-1h1v-1h1v-1h1v-1h1v-1h1v-1h1v-1h1v-1h1v-1h1v-1h1v-1h1v-1h1v-1h1v-1h1v-1h1v-1h1v-1h1v-1h1v-1h1v-1h1v-1h1v-1h1v-1h1v-1h1v-1h1v-1h1v-1h1v-1h1v-1h1v-1h1v-1h1v-1h1v-1h1v-1h1v-1h1v-1h1v-1h1v-1h1v-1h1v-1h1v-1h1v-1h1v-1h1v-1h1v-1h1v-1h1v-1h1v-1h1v-1h1v-1h1v-1h1v-1h1v-1h1v-1h1v-1h1v-1h1v-1h1v-1h1v-1h1v-1h1v-1h1v-1h1v-1h1v-1h1v-1h1v-1h1v-1h1v-1h1v-1h1v-1h1v-1h1v-1h1v-1h1v-1h1v-1h1v-1h1v-1h1v-1h1v-1h1v-1h1v-1h1v-1h1v-1h1v-1h1v-1h1v-1h1v-1h1v-1h1v-1h1v-1h1v-1h1v-1h1v-1h1v-1h1v-1h1v-1h1v-1h1v-1h1v-1h1v-1h1v-1h1v-1h1v-1h1v-1h1v-1h1v-1h1v-1h1v-1h1v-1h1v-1h1v-1h1v-1h1v-1h1v-1h1v-1h1v-1h1v-1h1v-1h1v-1h1v-1h1v-1h1v-1h1v-1h1v-1h1v-1h1v-1h1v-1h1v-1h1v-1h1v-1h1v-1h1v-1h1v-1h1v-1h1v-1h1v-1h1v-1h1v-1h1v-1h1v-1h1v1h-1v1h-1v1h-1v1h-1v1h-1v1h-1v1h-1v1h-1v1h-1v1h-1v1h-1v1h-1v1h-1v1h-1v1h-1v1h-1v1h-1v1h-1v1h-1v1h-1v1h-1v1h-1v1h-1v1h-1v1h-1v1h-1v1h-1v1h-1v1h-1v1h-1v1h-1v1h-1v1h-1v1h-1v1h-1v1h-1v1h-1v1h-1v1h-1v1h-1v1h-1v1h-1v1h-1v1h-1v1h-1v1h-1v1h-1v1h-1v1h-1v1h-1v1h-1v1h-1v1h-1v1h-1v1h-1v1h-1v1h-1v1h-1v1h-1v1h-1v1h-1v1h-1v1h-1v1h-1v1h-1v1h-1v1h-1v1h-1v1h-1v1h-1v1h-1v1h-1v1h-1v1h-1v1h-1v1h-1v1h-1v1h-1v1h-1v1h-1v1h-1v1h-1v1h-1v1h-1v1h-1v1h-1v1h-1v1h-1v1h-1v1h-1v1h-1v1h-1v1h-1v1h-1v1h-1v1h-1v1h-1v1h-1v1h-1v1h-1v1h-1v1h-1v1h-1v1h-1v1h-1v1h-1v1h-1v1h-1v1h-1v1h-1v1h-1v1h-1v1h-1v1h-1v1h-1v1h-1v1h-1v1h-1v1h-1v1h-1v1h-1v1h-1v1h-1v1h-1v1h-1v1h-1v1h-1v1h-1v1h-1v1h-1v1h-1v1h-1v1h-1v1h-1v1h-1v1h-1v1h-1v1h-1v1h-1v1h-1v1h-1v1h-1v1h-1v1h-1v1h-1v1h-1v1h-1v1h-1v1h-1v1h-1v1h-1v1h-1v1h-1v1h-1v1h-1v1h-1v1h-1v1h-1v1h-1v1h-1v1h-1v1h-1v1h-1v1h-1v1h-1v1h-1v1h-1v1h-1v1h-1v1h-1v1h-1v1h-1v1h-1v1h-1v1h-1v1h-1v1h-1v1h-1v1h-1v1h-1v1h-1v1h-1v1h-1v1h-1v1h-1v1h-1v1h-1v1h-1v1h-1v1h-1v1h-1v1h-1v1h-1v1h-1v1h-1v1h-1v1h-1v1h-1v1h-1v1h-1v1h-1v1h-1v1h-1v1h-1v1h-1v1h-1v1h-1v1h-1v1h-1v1h-1v1h-1v1h-1v1h-1v1h-1v1h-1v1h-1v1h-1v1h-1v1h-1v1h-1v1h-1v1h-1v1h-1v1h-1v1h-1v1h-1v1h-1v1h-1v1h-1v1h-1v1h-1v1h-1v1h-1v1h-1v1h-1v1h-1v1h-1v1h-1v1h-1v1h-1v1h-1v1h-1v1h-1v1h-1v1h-1v1h-1v1h-1v1h-1v1h-1v1h-1v1h-1v1h-1v1h-1v1h-1v1h-1v1h-1v1h-1v1h-1v1h-1v1h-1v1h-1v1h-1v1h-1v1h-1v1h-1v1h-1v1h-1v1h-1v1h-1v1h-1v1h-1v1h-1v1h-1v1h-1v1h-1v1h-1v1h-1v1h-1v1h-1v1h-1v1h-1Z M380,461v-1h1v-1h1v-1h1v-1h1v-1h1v-1h1v-1h1v-1h1v-1h1v-1h1v-1h1v-1h1v-1h1v-1h1v-1h1v-1h1v-1h1v-1h1v-1h1v-1h1v-1h1v-1h1v-1h1v-1h1v-1h1v-1h1v-1h1v-1h1v-1h1v-1h1v-1h1v-1h1v-1h1v-1h1v-1h1v-1h1v-1h1v-1h1v-1h1v-1h1v-1h1v-1h1v-1h1v-1h1v-1h1v-1h1v-1h1v-1h1v-1h1v-1h1v-1h1v-1h1v-1h1v-1h1v-1h1v-1h1v-1h1v-1h1v-1h1v-1h1v-1h1v-1h1v-1h1v-1h1v-1h1v-1h1v-1h1v-1h1v-1h1v-1h1v-1h1v-1h1v-1h1v-1h1v-1h1v-1h1v-1h1v-1h1v-1h1v-1h1v-1h1v-1h1v-1h1v-1h1v-1h1v-1h1v-1h1v-1h1v-1h1v-1h1v-1h1v-1h1v-1h1v-1h1v-1h1v-1h1v-1h1v-1h1v-1h1v-1h1v-1h1v-1h1v-1h1v-1h1v-1h1v-1h1v-1h1v-1h1v-1h1v-1h1v-1h1v-1h1v-1h1v-1h1v-1h1v-1h1v-1h1v-1h1v-1h1v-1h1v-1h1v-1h1v-1h1v-1h1v-1h1v-1h1v-1h1v-1h1v-1h1v-1h1v-1h1v-1h1v-1h1v-1h1v-1h1v-1h1v-1h1v-1h1v-1h1v-1h1v-1h1v-1h1v-1h1v-1h1v-1h1v-1h1v-1h1v-1h1v-1h1v-1h1v-1h1v-1h1v-1h1v-1h1v-1h1v-1h1v-1h1v-1h1v-1h1v-1h1v-1h1v-1h1v-1h1v-1h1v-1h1v-1h1v-1h1v-1h1v-1h1v-1h1v-1h1v-1h1v-1h1v-1h1v-1h1v-1h1v-1h1v-1h1v-1h1v-1h1v-1h1v-1h1v-1h1v-1h1v-1h1v-1h1v-1h1v-1h1v-1h1v-1h1v-1h1v-1h1v-1h1v-1h1v-1h1v-1h1v-1h1v-1h1v-1h1v-1h1v-1h1v-1h1v-1h1v-1h1v-1h1v-1h1v-1h1v-1h1v-1h1v-1h1v-1h1v-1h1v-1h1v-1h1v-1h1v-1h1v-1h1v-1h1v-1h1v-1h1v-1h1v-1h1v-1h1v-1h1v-1h1v-1h1v-1h1v-1h1v-1h1v-1h1v-1h1v-1h1v-1h1v-1h1v-1h1v-1h1v-1h1v-1h1v-1h1v-1h1v-1h1v-1h1v-1h1v-1h1v-1h1v-1h1v-1h1v-1h1v-1h1v-1h1v-1h1v-1h1v-1h1v-1h1v-1h1v-1h1v-1h1v-1h1v-1h1v-1h1v-1h1v-1h1v-1h1v-1h1v-1h1v-1h1v-1h1v-1h1v-1h1v-1h1v-1h1v-1h1v-1h1v-1h1v-1h1v-1h1v-1h1v-1h1v-1h1v-1h1v-1h1v1h-1v1h-1v1h-1v1h-1v1h-1v1h-1v1h-1v1h-1v1h-1v1h-1v1h-1v1h-1v1h-1v1h-1v1h-1v1h-1v1h-1v1h-1v1h-1v1h-1v1h-1v1h-1v1h-1v1h-1v1h-1v1h-1v1h-1v1h-1v1h-1v1h-1v1h-1v1h-1v1h-1v1h-1v1h-1v1h-1v1h-1v1h-1v1h-1v1h-1v1h-1v1h-1v1h-1v1h-1v1h-1v1h-1v1h-1v1h-1v1h-1v1h-1v1h-1v1h-1v1h-1v1h-1v1h-1v1h-1v1h-1v1h-1v1h-1v1h-1v1h-1v1h-1v1h-1v1h-1v1h-1v1h-1v1h-1v1h-1v1h-1v1h-1v1h-1v1h-1v1h-1v1h-1v1h-1v1h-1v1h-1v1h-1v1h-1v1h-1v1h-1v1h-1v1h-1v1h-1v1h-1v1h-1v1h-1v1h-1v1h-1v1h-1v1h-1v1h-1v1h-1v1h-1v1h-1v1h-1v1h-1v1h-1v1h-1v1h-1v1h-1v1h-1v1h-1v1h-1v1h-1v1h-1v1h-1v1h-1v1h-1v1h-1v1h-1v1h-1v1h-1v1h-1v1h-1v1h-1v1h-1v1h-1v1h-1v1h-1v1h-1v1h-1v1h-1v1h-1v1h-1v1h-1v1h-1v1h-1v1h-1v1h-1v1h-1v1h-1v1h-1v1h-1v1h-1v1h-1v1h-1v1h-1v1h-1v1h-1v1h-1v1h-1v1h-1v1h-1v1h-1v1h-1v1h-1v1h-1v1h-1v1h-1v1h-1v1h-1v1h-1v1h-1v1h-1v1h-1v1h-1v1h-1v1h-1v1h-1v1h-1v1h-1v1h-1v1h-1v1h-1v1h-1v1h-1v1h-1v1h-1v1h-1v1h-1v1h-1v1h-1v1h-1v1h-1v1h-1v1h-1v1h-1v1h-1v1h-1v1h-1v1h-1v1h-1v1h-1v1h-1v1h-1v1h-1v1h-1v1h-1v1h-1v1h-1v1h-1v1h-1v1h-1v1h-1v1h-1v1h-1v1h-1v1h-1v1h-1v1h-1v1h-1v1h-1v1h-1v1h-1v1h-1v1h-1v1h-1v1h-1v1h-1v1h-1v1h-1v1h-1v1h-1v1h-1v1h-1v1h-1v1h-1v1h-1v1h-1v1h-1v1h-1v1h-1v1h-1v1h-1v1h-1v1h-1v1h-1v1h-1v1h-1v1h-1v1h-1v1h-1v1h-1v1h-1v1h-1v1h-1v1h-1v1h-1v1h-1v1h-1v1h-1v1h-1v1h-1v1h-1v1h-1v1h-1v1h-1v1h-1v1h-1v1h-1v1h-1v1h-1v1h-1v1h-1v1h-1v1h-1v1h-1v1h-1v1h-1v1h-1v1h-1v1h-1v1h-1v1h-1v1h-1v1h-1v1h-1v1h-1v1h-1v1h-1v1h-1v1h-1v1h-1v1h-1v1h-1v1h-1v1h-1v1h-1v1h-1v1h-1Z" fill="#000" shape-rendering="crispEdges"/>
<path d="M206.5,167 L206.5,476 M240.5,167 L240.5,476 M274.5,167 L274.5,476 M309.5,167 L309.5,476 M343.5,167 L343.5,476 M377.5,167 L377.5,476 M411.5,167 L411.5,476 M446.5,167 L446.5,476 M480.5,167 L480.5,476 M514.5,167 L514.5,476" stroke="#000" stroke-width="1" stroke-dasharray="3 3" fill="none"/>
<rect x="206" y="475" width="1" height="3" fill="#000"/>
<rect x="240" y="475" width="1" height="3" fill="#000"/>
<rect x="274" y="475" width="1" height="3" fill="#000"/>
<rect x="309" y="475" width="1" height="3" fill="#000"/>
<rect x="343" y="475" width="1" height="3" fill="#000"/>
<rect x="377" y="475" width="1" height="3" fill="#000"/>
<rect x="411" y="475" width="1" height="3" fill="#000"/>
<rect x="446" y="475" width="1" height="3" fill="#000"/>
<rect x="480" y="475" width="1" height="3" fill="#000"/>
<rect x="514" y="475" width="1" height="3" fill="#000"/>
<path d="M206,166.5 L515,166.5 M206,197.5 L515,197.5 M206,228.5 L515,228.5 M206,259.5 L515,259.5 M206,290.5 L515,290.5 M206,351.5 L515,351.5 M206,382.5 L515,382.5 M206,413.5 L515,413.5 M206,444.5 L515,444.5 M206,475.5 L515,475.5" stroke="#000" stroke-width="1" stroke-dasharray="3 3" fill="none"/>
<rect x="204" y="166" width="2" height="1" fill="#000"/>
<rect x="204" y="197" width="2" height="1" fill="#000"/>
<rect x="204" y="228" width="2" height="1" fill="#000"/>
<rect x="204" y="259" width="2" height="1" fill="#000"/>
<rect x="204" y="290" width="2" height="1" fill="#000"/>
<rect x="204" y="320" width="2" height="1" fill="#000"/>
<rect x="204" y="351" width="2" height="1" fill="#000"/>
<rect x="204" y="382" width="2" height="1" fill="#000"/>
<rect x="204" y="413" width="2" height="1" fill="#000"/>
<rect x="204" y="444" width="2" height="1" fill="#000"/>
<rect x="204" y="475" width="2" height="1" fill="#000"/>
<rect x="204" y="320" width="327" height="1" fill="#000"/>
<rect x="339" y="214" width="1" height="214" fill="#000"/>
<rect x="446" y="318" width="4" height="1" fill="#000"/>
<rect x="446" y="322" width="4" height="1" fill="#000"/>
<polygon points="449,319 456,320.5 449,322" fill="#000"/>
<rect x="449" y="319" width="6" height="1" fill="#000"/>
<rect x="449" y="321" width="6" height="1" fill="#000"/>
<rect x="517" y="318" width="4" height="1" fill="#000"/>
<rect x="517" y="322" width="4" height="1" fill="#000"/>
<polygon points="520,319 527,320.5 520,322" fill="#000"/>
<rect x="520" y="319" width="6" height="1" fill="#000"/>
<rect x="520" y="321" width="6" height="1" fill="#000"/>
<polygon points="337.8,226 339.5,214.5 341.4,226" fill="#000"/>
<rect x="341" y="223" width="1" height="3" fill="#000"/>
<g shape-rendering="crispEdges"><path d="M209.5,228.5 L429.5,186.3 A608.7,608.7 0 0 1 429.5,454.9 L209.5,412.7 A474.7,474.7 0 0 0 209.5,228.5 Z" stroke="#000" stroke-width="3" fill="none" stroke-linejoin="miter"/>
<path d="M209.5,228.5 L250.1,320.5" stroke="#000" stroke-width="3" fill="none"/>
<circle cx="325.5" cy="320.5" r="75.4" stroke="#000" stroke-width="3" fill="none"/></g>
<g font-family="'Liberation Sans', Arial, sans-serif" fill="#000">
<text x="174.8" y="145.4" font-size="6.8" textLength="29.40" lengthAdjust="spacingAndGlyphs" font-weight="normal" stroke="#000" stroke-width="0.3">z [mm]</text>
<text transform="translate(174.5 170) scale(1.2 1)" x="0" y="0" font-size="6.8" font-weight="bold">25</text>
<text transform="translate(174.5 201) scale(1.2 1)" x="0" y="0" font-size="6.8" font-weight="bold">20</text>
<text transform="translate(174.5 232) scale(1.2 1)" x="0" y="0" font-size="6.8" font-weight="bold">15</text>
<text transform="translate(174.5 262) scale(1.2 1)" x="0" y="0" font-size="6.8" font-weight="bold">10</text>
<text transform="translate(174.5 293) scale(1.2 1)" x="0" y="0" font-size="6.8" font-weight="bold">5</text>
<text transform="translate(174.5 324) scale(1.2 1)" x="0" y="0" font-size="6.8" font-weight="bold">0</text>
<text transform="translate(174.5 355) scale(1.2 1)" x="0" y="0" font-size="6.8" font-weight="bold">-5</text>
<text transform="translate(174.5 386) scale(1.2 1)" x="0" y="0" font-size="6.8" font-weight="bold">-10</text>
<text transform="translate(174.5 417) scale(1.2 1)" x="0" y="0" font-size="6.8" font-weight="bold">-15</text>
<text transform="translate(174.5 447) scale(1.2 1)" x="0" y="0" font-size="6.8" font-weight="bold">-20</text>
<text transform="translate(174.5 478) scale(1.2 1)" x="0" y="0" font-size="6.8" font-weight="bold">-25</text>
<text transform="translate(196.1 497) scale(1.2 1)" x="0" y="0" font-size="6.8" font-weight="bold">70</text>
<text transform="translate(230.1 497) scale(1.2 1)" x="0" y="0" font-size="6.8" font-weight="bold">75</text>
<text transform="translate(264.1 497) scale(1.2 1)" x="0" y="0" font-size="6.8" font-weight="bold">80</text>
<text transform="translate(299.1 497) scale(1.2 1)" x="0" y="0" font-size="6.8" font-weight="bold">85</text>
<text transform="translate(333.1 497) scale(1.2 1)" x="0" y="0" font-size="6.8" font-weight="bold">90</text>
<text transform="translate(367.1 497) scale(1.2 1)" x="0" y="0" font-size="6.8" font-weight="bold">95</text>
<text transform="translate(401.1 497) scale(1.2 1)" x="0" y="0" font-size="6.8" font-weight="bold">100</text>
<text transform="translate(436.1 497) scale(1.2 1)" x="0" y="0" font-size="6.8" font-weight="bold">105</text>
<text transform="translate(470.1 497) scale(1.2 1)" x="0" y="0" font-size="6.8" font-weight="bold">110</text>
<text transform="translate(504.1 497) scale(1.2 1)" x="0" y="0" font-size="6.8" font-weight="bold">115</text>
<text x="520.3" y="466.2" font-size="6.8" textLength="29.10" lengthAdjust="spacingAndGlyphs" font-weight="normal" stroke="#000" stroke-width="0.3">y [mm]</text>
<text transform="translate(461.2 320.4) scale(1.05 1)" x="0" y="0" font-size="7.2">v</text>
<text transform="translate(342.8 214.0) scale(0.85 1)" x="0" y="0" font-size="8.6">w</text>
</g>
<rect x="206" y="536" width="299" height="1" fill="#000"/>
<rect x="206" y="552" width="299" height="1" fill="#000"/>
<rect x="206" y="567" width="299" height="1" fill="#000"/>
<rect x="206" y="582" width="299" height="1" fill="#000"/>
<rect x="206" y="598" width="299" height="1" fill="#000"/>
<rect x="206" y="613" width="299" height="1" fill="#000"/>
<rect x="206" y="629" width="299" height="1" fill="#000"/>
<rect x="206" y="644" width="299" height="1" fill="#000"/>
<rect x="206" y="660" width="299" height="1" fill="#000"/>
<rect x="206" y="675" width="299" height="1" fill="#000"/>
<rect x="206" y="690" width="299" height="1" fill="#000"/>
<rect x="206" y="706" width="299" height="1" fill="#000"/>
<rect x="206" y="721" width="299" height="1" fill="#000"/>
<rect x="206" y="737" width="299" height="1" fill="#000"/>
<rect x="206" y="752" width="299" height="1" fill="#000"/>
<rect x="206" y="767" width="299" height="1" fill="#000"/>
<rect x="206" y="783" width="299" height="1" fill="#000"/>
<rect x="206" y="798" width="299" height="1" fill="#000"/>
<rect x="206" y="814" width="299" height="1" fill="#000"/>
<rect x="206" y="829" width="299" height="1" fill="#000"/>
<rect x="206" y="844" width="299" height="1" fill="#000"/>
<rect x="206" y="860" width="299" height="1" fill="#000"/>
<rect x="206" y="536" width="1" height="325" fill="#000"/>
<rect x="504" y="536" width="1" height="325" fill="#000"/>
<rect x="379" y="567" width="1" height="294" fill="#000"/>
<rect x="407" y="567" width="1" height="294" fill="#000"/>
<rect x="435" y="567" width="1" height="294" fill="#000"/>
<g font-family="'Liberation Sans', Arial, sans-serif" fill="#000" stroke="#000" stroke-width="0">
<text transform="translate(209.3 549) scale(1.1 1)" x="0" y="0" font-size="9.2" textLength="67.45" lengthAdjust="spacing">ERGEBNISSE</text>
<text transform="translate(290.6 549) scale(1.1 1)" x="0" y="0" font-size="9.2" textLength="136.36" lengthAdjust="spacing">SV Querschnitt B5 - VDI 2230</text>
<text transform="translate(209.3 564) scale(1.1 1)" x="0" y="0" font-size="9.2" textLength="174.18" lengthAdjust="spacing">Kreisringsegment 210 x 144 x 24° x 22</text>
<text transform="translate(209.3 580) scale(1.1 1)" x="0" y="0" font-size="9.2" textLength="84.73" lengthAdjust="spacing">Querschnittsfläche</text>
<text transform="translate(382.4 580) scale(1.14 1)" x="0" y="0" font-size="9.2">A</text>
<text transform="translate(409.0 580) scale(1.14 1)" x="0" y="0" font-size="9.2">mm²</text>
<text transform="translate(437.6 580) scale(1.14 1)" x="0" y="0" font-size="9.2">843</text>
<text transform="translate(209.3 595) scale(1.1 1)" x="0" y="0" font-size="9.2" textLength="102.00" lengthAdjust="spacing">Flächenmoment 1.Ord.</text>
<text transform="translate(382.4 595) scale(1.14 1)" x="0" y="0" font-size="9.2">Hy</text>
<text transform="translate(409.0 595) scale(1.14 1)" x="0" y="0" font-size="9.2">mm²</text>
<text transform="translate(437.6 595) scale(1.14 1)" x="0" y="0" font-size="9.2">0</text>
<text transform="translate(209.3 610) scale(1.1 1)" x="0" y="0" font-size="9.2" textLength="102.00" lengthAdjust="spacing">Flächenmoment 1.Ord.</text>
<text transform="translate(382.4 610) scale(1.14 1)" x="0" y="0" font-size="9.2">Hz</text>
<text transform="translate(409.0 610) scale(1.14 1)" x="0" y="0" font-size="9.2">mm²</text>
<text transform="translate(437.6 610) scale(1.14 1)" x="0" y="0" font-size="9.2">75,45E3</text>
<text transform="translate(209.3 626) scale(1.1 1)" x="0" y="0" font-size="9.2" textLength="117.27" lengthAdjust="spacing">Ax.Flächenmoment 2.Ord.</text>
<text transform="translate(382.4 626) scale(1.14 1)" x="0" y="0" font-size="9.2">Iy</text>
<text transform="translate(409.0 626) scale(1.14 1)" x="0" y="0" font-size="9.2">mm4</text>
<text transform="translate(437.6 626) scale(1.14 1)" x="0" y="0" font-size="9.2">132195</text>
<text transform="translate(209.3 641) scale(1.1 1)" x="0" y="0" font-size="9.2" textLength="117.27" lengthAdjust="spacing">Ax.Flächenmoment 2.Ord.</text>
<text transform="translate(382.4 641) scale(1.14 1)" x="0" y="0" font-size="9.2">Iz</text>
<text transform="translate(409.0 641) scale(1.14 1)" x="0" y="0" font-size="9.2">mm4</text>
<text transform="translate(437.6 641) scale(1.14 1)" x="0" y="0" font-size="9.2">6848016</text>
<text transform="translate(209.3 657) scale(1.1 1)" x="0" y="0" font-size="9.2" textLength="126.18" lengthAdjust="spacing">Gem.Flächenmoment 2.Ord.</text>
<text transform="translate(382.4 657) scale(1.14 1)" x="0" y="0" font-size="9.2">Iyz</text>
<text transform="translate(409.0 657) scale(1.14 1)" x="0" y="0" font-size="9.2">mm4</text>
<text transform="translate(437.6 657) scale(1.14 1)" x="0" y="0" font-size="9.2">0</text>
<text transform="translate(209.3 672) scale(1.1 1)" x="0" y="0" font-size="9.2" textLength="120.36" lengthAdjust="spacing">Pol.Flächenmoment 2.Ord.</text>
<text transform="translate(382.4 672) scale(1.14 1)" x="0" y="0" font-size="9.2">Ip0</text>
<text transform="translate(409.0 672) scale(1.14 1)" x="0" y="0" font-size="9.2">mm4</text>
<text transform="translate(437.6 672) scale(1.14 1)" x="0" y="0" font-size="9.2">6980210</text>
<text transform="translate(209.3 687) scale(1.1 1)" x="0" y="0" font-size="9.2" textLength="105.27" lengthAdjust="spacing">Schwerpunktkoordinate</text>
<text transform="translate(382.4 687) scale(1.14 1)" x="0" y="0" font-size="9.2">ys</text>
<text transform="translate(409.0 687) scale(1.14 1)" x="0" y="0" font-size="9.2">mm</text>
<text transform="translate(437.6 687) scale(1.14 1)" x="0" y="0" font-size="9.2">89,49</text>
<text transform="translate(209.3 703) scale(1.1 1)" x="0" y="0" font-size="9.2" textLength="105.27" lengthAdjust="spacing">Schwerpunktkoordinate</text>
<text transform="translate(382.4 703) scale(1.14 1)" x="0" y="0" font-size="9.2">zs</text>
<text transform="translate(409.0 703) scale(1.14 1)" x="0" y="0" font-size="9.2">mm</text>
<text transform="translate(437.6 703) scale(1.14 1)" x="0" y="0" font-size="9.2">0</text>
<text transform="translate(209.3 718) scale(1.1 1)" x="0" y="0" font-size="9.2" textLength="125.45" lengthAdjust="spacing">Ax.Flächenmoment Schw.p.</text>
<text transform="translate(382.4 718) scale(1.14 1)" x="0" y="0" font-size="9.2">Ieta</text>
<text transform="translate(409.0 718) scale(1.14 1)" x="0" y="0" font-size="9.2">mm4</text>
<text transform="translate(437.6 718) scale(1.14 1)" x="0" y="0" font-size="9.2">132195</text>
<text transform="translate(209.3 734) scale(1.1 1)" x="0" y="0" font-size="9.2" textLength="125.45" lengthAdjust="spacing">Ax.Flächenmoment Schw.p.</text>
<text transform="translate(382.4 734) scale(1.14 1)" x="0" y="0" font-size="9.2">Izeta</text>
<text transform="translate(409.0 734) scale(1.14 1)" x="0" y="0" font-size="9.2">mm4</text>
<text transform="translate(437.6 734) scale(1.14 1)" x="0" y="0" font-size="9.2">96009</text>
<text transform="translate(209.3 749) scale(1.1 1)" x="0" y="0" font-size="9.2" textLength="135.00" lengthAdjust="spacing">Gem.Flächenmoment Schw.p.</text>
<text transform="translate(382.4 749) scale(1.14 1)" x="0" y="0" font-size="9.2">Iez</text>
<text transform="translate(409.0 749) scale(1.14 1)" x="0" y="0" font-size="9.2">mm4</text>
<text transform="translate(437.6 749) scale(1.14 1)" x="0" y="0" font-size="9.2">0</text>
<text transform="translate(209.3 764) scale(1.1 1)" x="0" y="0" font-size="9.2" textLength="128.64" lengthAdjust="spacing">Pol.Flächenmoment Schw.p.</text>
<text transform="translate(382.4 764) scale(1.14 1)" x="0" y="0" font-size="9.2">IpS</text>
<text transform="translate(409.0 764) scale(1.14 1)" x="0" y="0" font-size="9.2">mm4</text>
<text transform="translate(437.6 764) scale(1.14 1)" x="0" y="0" font-size="9.2">228203</text>
<text transform="translate(209.3 780) scale(1.1 1)" x="0" y="0" font-size="9.2" textLength="100.55" lengthAdjust="spacing">Hauptflächenmoment 1</text>
<text transform="translate(382.4 780) scale(1.14 1)" x="0" y="0" font-size="9.2">I1</text>
<text transform="translate(409.0 780) scale(1.14 1)" x="0" y="0" font-size="9.2">mm4</text>
<text transform="translate(437.6 780) scale(1.14 1)" x="0" y="0" font-size="9.2">132195</text>
<text transform="translate(209.3 795) scale(1.1 1)" x="0" y="0" font-size="9.2" textLength="102.18" lengthAdjust="spacing">Hauptflächenmoment 2</text>
<text transform="translate(382.4 795) scale(1.14 1)" x="0" y="0" font-size="9.2">I2</text>
<text transform="translate(409.0 795) scale(1.14 1)" x="0" y="0" font-size="9.2">mm4</text>
<text transform="translate(437.6 795) scale(1.14 1)" x="0" y="0" font-size="9.2">96009</text>
<text transform="translate(209.3 811) scale(1.1 1)" x="0" y="0" font-size="9.2" textLength="53.64" lengthAdjust="spacing">Hauptwinkel</text>
<text transform="translate(382.4 811) scale(1.14 1)" x="0" y="0" font-size="9.2">phi</text>
<text transform="translate(409.0 811) scale(1.14 1)" x="0" y="0" font-size="9.2">°</text>
<text transform="translate(437.6 811) scale(1.14 1)" x="0" y="0" font-size="9.2">0</text>
<text transform="translate(209.3 826) scale(1.1 1)" x="0" y="0" font-size="9.2" textLength="29.27" lengthAdjust="spacing">Masse</text>
<text transform="translate(382.4 826) scale(1.14 1)" x="0" y="0" font-size="9.2">m</text>
<text transform="translate(409.0 826) scale(1.14 1)" x="0" y="0" font-size="9.2">kg</text>
<text transform="translate(437.6 826) scale(1.14 1)" x="0" y="0" font-size="9.2">6,576</text>
<text transform="translate(209.3 841) scale(1.1 1)" x="0" y="0" font-size="9.2" textLength="109.18" lengthAdjust="spacing">Massenträgheitsmoment</text>
<text transform="translate(382.4 841) scale(1.14 1)" x="0" y="0" font-size="9.2">Js</text>
<text transform="translate(409.0 841) scale(1.14 1)" x="0" y="0" font-size="9.2">kgm²</text>
<text transform="translate(437.6 841) scale(1.14 1)" x="0" y="0" font-size="9.2">0,00178</text>
<text transform="translate(209.3 857) scale(1.1 1)" x="0" y="0" font-size="9.2" textLength="109.18" lengthAdjust="spacing">Massenträgheitsmoment</text>
<text transform="translate(382.4 857) scale(1.14 1)" x="0" y="0" font-size="9.2">J0</text>
<text transform="translate(409.0 857) scale(1.14 1)" x="0" y="0" font-size="9.2">kgm²</text>
<text transform="translate(437.6 857) scale(1.14 1)" x="0" y="0" font-size="9.2">0,0544</text>
</g>
<rect x="77" y="865" width="576" height="3" fill="#000"/>
<rect x="77" y="879" width="169" height="1" fill="#000"/>
<rect x="77" y="892" width="169" height="1" fill="#000"/>
<rect x="77" y="905" width="169" height="1" fill="#000"/>
<rect x="77" y="918" width="169" height="1" fill="#000"/>
<rect x="77" y="931" width="169" height="1" fill="#000"/>
<rect x="77" y="944" width="169" height="1" fill="#000"/>
<rect x="77" y="957" width="169" height="1" fill="#000"/>
<rect x="77" y="970" width="169" height="1" fill="#000"/>
<rect x="101" y="866" width="1" height="116" fill="#000"/>
<rect x="181" y="866" width="1" height="116" fill="#000"/>
<rect x="221" y="866" width="1" height="116" fill="#000"/>
<rect x="245" y="866" width="2" height="117" fill="#000"/>
<rect x="246" y="879" width="132" height="1" fill="#000"/>
<rect x="246" y="892" width="132" height="1" fill="#000"/>
<rect x="246" y="905" width="132" height="1" fill="#000"/>
<rect x="246" y="918" width="132" height="1" fill="#000"/>
<rect x="246" y="930" width="132" height="2" fill="#000"/>
<rect x="246" y="970" width="407" height="1" fill="#000"/>
<rect x="274" y="866" width="1" height="64" fill="#000"/>
<rect x="323" y="866" width="1" height="64" fill="#000"/>
<rect x="377" y="866" width="2" height="117" fill="#000"/>
<rect x="378" y="930" width="275" height="2" fill="#000"/>
<rect x="612" y="930" width="1" height="40" fill="#000"/>
<rect x="612" y="955" width="41" height="1" fill="#000"/>
<rect x="514" y="970" width="1" height="12" fill="#000"/>
<g font-family="'Liberation Sans', Arial, sans-serif" fill="#000">
<text x="391.2" y="899.7" font-size="18.9" textLength="152.40" lengthAdjust="spacingAndGlyphs">SV Querschnitt</text>
<text transform="translate(391.4 922.2) scale(1.25 1)" x="0" y="0" font-size="10.3" textLength="194.72" lengthAdjust="spacing">Kreisringsegment 210 x 144 x 24° x 22</text>
<text x="391.6" y="962.5" font-size="18.9" textLength="142.40" lengthAdjust="spacingAndGlyphs">B5 - VDI 2230</text>
<text x="618.3" y="943" font-size="7.0" textLength="19.00" lengthAdjust="spacingAndGlyphs" font-weight="normal" stroke="#000" stroke-width="0.25">Blatt</text>
<text x="637.5" y="966.5" font-size="7.0" textLength="10.90" lengthAdjust="spacingAndGlyphs" font-weight="normal" stroke="#000" stroke-width="0.25">Bl.</text>
<g stroke="#000" stroke-width="0">
<text x="282.7" y="875.8" font-size="7.4" textLength="27.40" lengthAdjust="spacingAndGlyphs">Datum</text>
<text x="328.5" y="875.8" font-size="7.4" textLength="25.10" lengthAdjust="spacingAndGlyphs">Name</text>
<text x="248.3" y="889" font-size="7.4" textLength="23.90" lengthAdjust="spacingAndGlyphs">Bearb</text>
<text x="276.9" y="889" font-size="7.4" textLength="46.40" lengthAdjust="spacingAndGlyphs">03.12.2014</text>
<text x="248.3" y="901.9" font-size="7.4" textLength="23.40" lengthAdjust="spacingAndGlyphs">Gepr.</text>
<text x="248.3" y="914.6" font-size="7.4" textLength="22.90" lengthAdjust="spacingAndGlyphs">Norm</text>
</g>
<text x="252.4" y="978.9" font-size="5.8" textLength="93.60" lengthAdjust="spacingAndGlyphs" font-weight="bold">HA.U's Reducer Manufacturing</text>
<text transform="translate(79 980) scale(1.0 1)" x="0" y="0" font-size="6.2" font-weight="bold">Zust.</text>
<text transform="translate(113 980) scale(1.0 1)" x="0" y="0" font-size="6.2" font-weight="bold">Änderung</text>
<text transform="translate(187.7 980) scale(1.0 1)" x="0" y="0" font-size="6.2" font-weight="bold">Datum</text>
<text transform="translate(223.8 980) scale(1.0 1)" x="0" y="0" font-size="6.2" font-weight="bold">Name</text>
<text x="76.8" y="996.2" font-size="5.8" textLength="99.30" lengthAdjust="spacingAndGlyphs" font-weight="bold">HA\APPS\TP\TRAIN\sr1vdi5.go1</text>
<text x="595.7" y="995.2" font-size="5.8" textLength="50.50" lengthAdjust="spacingAndGlyphs" font-weight="bold">15.02.2015 9:01</text>
</g></svg>
</body></html>
